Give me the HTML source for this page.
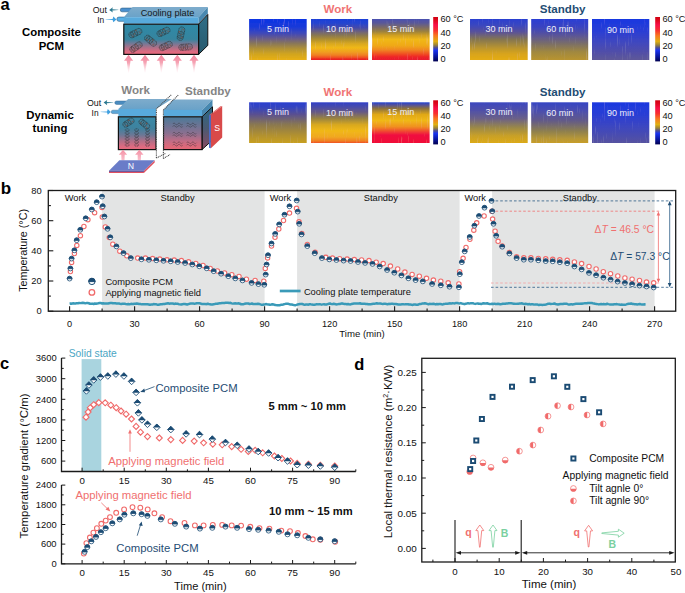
<!DOCTYPE html>
<html><head><meta charset="utf-8"><style>html,body{margin:0;padding:0;background:#fff;}svg{display:block;}</style></head>
<body><svg width="685" height="593" viewBox="0 0 685 593" font-family="Liberation Sans, sans-serif"><defs><linearGradient id="h1_0" x1="0" y1="0" x2="0" y2="1"><stop offset="0" stop-color="#0a34e4"/><stop offset="0.2" stop-color="#1a3ad8"/><stop offset="0.35" stop-color="#4048b8"/><stop offset="0.48" stop-color="#6a5c88"/><stop offset="0.6" stop-color="#8a7858"/><stop offset="0.72" stop-color="#ae9038"/><stop offset="0.85" stop-color="#d0a420"/><stop offset="1" stop-color="#e8b014"/></linearGradient><linearGradient id="h1_1" x1="0" y1="0" x2="0" y2="1"><stop offset="0" stop-color="#1c40d8"/><stop offset="0.1" stop-color="#2444d0"/><stop offset="0.2" stop-color="#4048b0"/><stop offset="0.3" stop-color="#6a6080"/><stop offset="0.4" stop-color="#8a7850"/><stop offset="0.5" stop-color="#b09030"/><stop offset="0.6" stop-color="#d8a820"/><stop offset="0.7" stop-color="#f0b818"/><stop offset="0.8" stop-color="#f0a020"/><stop offset="0.88" stop-color="#f08020"/><stop offset="0.94" stop-color="#f05020"/><stop offset="0.98" stop-color="#e82020"/><stop offset="1" stop-color="#e82020"/></linearGradient><linearGradient id="h1_2" x1="0" y1="0" x2="0" y2="1"><stop offset="0" stop-color="#4a50b0"/><stop offset="0.1" stop-color="#5a5898"/><stop offset="0.2" stop-color="#7a6a68"/><stop offset="0.3" stop-color="#9a8040"/><stop offset="0.4" stop-color="#d0a020"/><stop offset="0.5" stop-color="#f0b818"/><stop offset="0.65" stop-color="#f0a818"/><stop offset="0.75" stop-color="#f08820"/><stop offset="0.85" stop-color="#f05020"/><stop offset="0.92" stop-color="#ee2828"/><stop offset="1" stop-color="#e81830"/></linearGradient><linearGradient id="h1_3" x1="0" y1="0" x2="0" y2="1"><stop offset="0" stop-color="#2a40d0"/><stop offset="0.15" stop-color="#3a46c0"/><stop offset="0.32" stop-color="#5a5298"/><stop offset="0.5" stop-color="#857650"/><stop offset="0.7" stop-color="#b89430"/><stop offset="0.85" stop-color="#d8a41c"/><stop offset="1" stop-color="#e4ac14"/></linearGradient><linearGradient id="h1_4" x1="0" y1="0" x2="0" y2="1"><stop offset="0" stop-color="#2a3ed4"/><stop offset="0.2" stop-color="#3a44c0"/><stop offset="0.4" stop-color="#5a5498"/><stop offset="0.6" stop-color="#7a6e68"/><stop offset="0.8" stop-color="#a08840"/><stop offset="1" stop-color="#b89430"/></linearGradient><linearGradient id="h1_5" x1="0" y1="0" x2="0" y2="1"><stop offset="0" stop-color="#1838e0"/><stop offset="0.3" stop-color="#2a3ed4"/><stop offset="0.6" stop-color="#4248bc"/><stop offset="0.85" stop-color="#5450a4"/><stop offset="1" stop-color="#5e5898"/></linearGradient><linearGradient id="h2_0" x1="0" y1="0" x2="0" y2="1"><stop offset="0" stop-color="#2a40d0"/><stop offset="0.12" stop-color="#3444c0"/><stop offset="0.3" stop-color="#5a5090"/><stop offset="0.55" stop-color="#8a7850"/><stop offset="0.8" stop-color="#b09030"/><stop offset="1" stop-color="#c8a020"/></linearGradient><linearGradient id="h2_1" x1="0" y1="0" x2="0" y2="1"><stop offset="0" stop-color="#3040c8"/><stop offset="0.12" stop-color="#4a4ca8"/><stop offset="0.25" stop-color="#6a5c80"/><stop offset="0.4" stop-color="#9a8440"/><stop offset="0.55" stop-color="#d8a820"/><stop offset="0.7" stop-color="#f0b818"/><stop offset="0.85" stop-color="#f0a820"/><stop offset="0.95" stop-color="#f08020"/><stop offset="1" stop-color="#f05020"/></linearGradient><linearGradient id="h2_2" x1="0" y1="0" x2="0" y2="1"><stop offset="0" stop-color="#2040d0"/><stop offset="0.06" stop-color="#5050a0"/><stop offset="0.15" stop-color="#8a7040"/><stop offset="0.3" stop-color="#e0a818"/><stop offset="0.45" stop-color="#f0b818"/><stop offset="0.6" stop-color="#f09020"/><stop offset="0.7" stop-color="#f05030"/><stop offset="0.8" stop-color="#f01040"/><stop offset="1" stop-color="#f00838"/></linearGradient><linearGradient id="h2_3" x1="0" y1="0" x2="0" y2="1"><stop offset="0" stop-color="#3c48c0"/><stop offset="0.2" stop-color="#5050a8"/><stop offset="0.4" stop-color="#6a6088"/><stop offset="0.62" stop-color="#9a8848"/><stop offset="0.82" stop-color="#c8a028"/><stop offset="1" stop-color="#dcaa18"/></linearGradient><linearGradient id="h2_4" x1="0" y1="0" x2="0" y2="1"><stop offset="0" stop-color="#3444c4"/><stop offset="0.2" stop-color="#4a4eb0"/><stop offset="0.45" stop-color="#625a88"/><stop offset="0.7" stop-color="#8c7e50"/><stop offset="0.88" stop-color="#b49638"/><stop offset="1" stop-color="#c89e28"/></linearGradient><linearGradient id="h2_5" x1="0" y1="0" x2="0" y2="1"><stop offset="0" stop-color="#1a38e0"/><stop offset="0.3" stop-color="#2a3ed4"/><stop offset="0.6" stop-color="#3c46c0"/><stop offset="0.85" stop-color="#4c4eac"/><stop offset="1" stop-color="#5652a0"/></linearGradient><linearGradient id="cb" x1="0" y1="0" x2="0" y2="1"><stop offset="0" stop-color="#d00010"/><stop offset="0.08" stop-color="#e00820"/><stop offset="0.18" stop-color="#f81048"/><stop offset="0.3" stop-color="#f83030"/><stop offset="0.42" stop-color="#f87820"/><stop offset="0.55" stop-color="#e0b010"/><stop offset="0.63" stop-color="#9a8438"/><stop offset="0.69" stop-color="#505090"/><stop offset="0.75" stop-color="#1a34f0"/><stop offset="0.86" stop-color="#0c1cb0"/><stop offset="1" stop-color="#000050"/></linearGradient><linearGradient id="box1" x1="0" y1="0" x2="0" y2="1"><stop offset="0" stop-color="#2e8aa8"/><stop offset="0.5" stop-color="#36849e"/><stop offset="0.62" stop-color="#6a7a98"/><stop offset="0.78" stop-color="#b07088"/><stop offset="0.92" stop-color="#e06a80"/><stop offset="1" stop-color="#e46a7c"/></linearGradient><linearGradient id="box1r" x1="0" y1="0" x2="0" y2="1"><stop offset="0" stop-color="#2e6e88"/><stop offset="0.6" stop-color="#2a6278"/><stop offset="1" stop-color="#2a5a6e"/></linearGradient><linearGradient id="box2" x1="0" y1="0" x2="0" y2="1"><stop offset="0" stop-color="#3a8aa8"/><stop offset="0.35" stop-color="#3e829e"/><stop offset="0.55" stop-color="#6a7896"/><stop offset="0.75" stop-color="#b46e86"/><stop offset="0.92" stop-color="#e06a80"/><stop offset="1" stop-color="#e46a7c"/></linearGradient><linearGradient id="box2s" x1="0" y1="0" x2="0" y2="1"><stop offset="0" stop-color="#4a7a98"/><stop offset="0.25" stop-color="#6a7494"/><stop offset="0.5" stop-color="#8a7090"/><stop offset="0.75" stop-color="#c46c84"/><stop offset="0.92" stop-color="#e06878"/><stop offset="1" stop-color="#e46878"/></linearGradient><linearGradient id="box2r" x1="0" y1="0" x2="0" y2="1"><stop offset="0" stop-color="#2a6a84"/><stop offset="0.5" stop-color="#4a5a72"/><stop offset="1" stop-color="#8a4a60"/></linearGradient><linearGradient id="ptop" x1="0" y1="0" x2="0" y2="1"><stop offset="0" stop-color="#7eaccc"/><stop offset="1" stop-color="#6aa2c8"/></linearGradient><linearGradient id="parr" x1="0" y1="0" x2="0" y2="1"><stop offset="0" stop-color="#f2849c"/><stop offset="0.45" stop-color="#f6a4b4"/><stop offset="1" stop-color="#fde4ea" stop-opacity="0.3"/></linearGradient><linearGradient id="parr2" x1="0" y1="0" x2="0" y2="1"><stop offset="0" stop-color="#f490a4"/><stop offset="1" stop-color="#fac0cc"/></linearGradient><filter id="streak" x="0" y="0" width="1" height="1"><feTurbulence type="fractalNoise" baseFrequency="0.9 0.06" numOctaves="2" seed="3" result="n"/><feColorMatrix in="n" type="matrix" values="0 0 0 0 1  0 0 0 0 1  0 0 0 0 1  0 0 0 0.3 -0.19" result="w"/><feComposite in="w" in2="SourceGraphic" operator="in" result="wc"/><feMerge><feMergeNode in="SourceGraphic"/><feMergeNode in="wc"/></feMerge></filter></defs><rect width="685" height="593" fill="#fff"/><text x="0.5" y="9.6" font-family="Liberation Sans, sans-serif" font-weight="bold" font-size="16.5">a</text><text x="51.4" y="35.5" font-family="Liberation Sans, sans-serif" font-weight="bold" font-size="11.4" text-anchor="middle">Composite</text><text x="51.4" y="49.6" font-family="Liberation Sans, sans-serif" font-weight="bold" font-size="11.4" text-anchor="middle">PCM</text><text x="50" y="118.5" font-family="Liberation Sans, sans-serif" font-weight="bold" font-size="11.4" text-anchor="middle">Dynamic</text><text x="50" y="132.2" font-family="Liberation Sans, sans-serif" font-weight="bold" font-size="11.4" text-anchor="middle">tuning</text><rect x="249.1" y="19" width="57.6" height="41.0" fill="url(#h1_0)" filter="url(#streak)"/><text x="277.9" y="32.1" font-family="Liberation Sans, sans-serif" font-size="9" fill="#f0f0fa" text-anchor="middle">5 min</text><rect x="311" y="19" width="57.2" height="41.0" fill="url(#h1_1)" filter="url(#streak)"/><text x="339.6" y="32.4" font-family="Liberation Sans, sans-serif" font-size="9" fill="#f0f0fa" text-anchor="middle">10 min</text><rect x="372" y="19" width="57.6" height="41.0" fill="url(#h1_2)" filter="url(#streak)"/><text x="400.8" y="32.1" font-family="Liberation Sans, sans-serif" font-size="9" fill="#f0f0fa" text-anchor="middle">15 min</text><rect x="470" y="19" width="57.7" height="41.0" fill="url(#h1_3)" filter="url(#streak)"/><text x="498.9" y="31.9" font-family="Liberation Sans, sans-serif" font-size="9" fill="#f0f0fa" text-anchor="middle">30 min</text><rect x="531.2" y="19" width="57.0" height="41.0" fill="url(#h1_4)" filter="url(#streak)"/><text x="559.7" y="32.2" font-family="Liberation Sans, sans-serif" font-size="9" fill="#f0f0fa" text-anchor="middle">60 min</text><rect x="592" y="19" width="57.3" height="41.0" fill="url(#h1_5)" filter="url(#streak)"/><text x="620.6" y="32.9" font-family="Liberation Sans, sans-serif" font-size="9" fill="#f0f0fa" text-anchor="middle">90 min</text><rect x="433.2" y="17.0" width="4.8" height="44.4" fill="url(#cb)"/><text x="440.4" y="22.4" font-family="Liberation Sans, sans-serif" font-size="9.2" fill="#111">60 °C</text><text x="440.4" y="35.5" font-family="Liberation Sans, sans-serif" font-size="9.2" fill="#111">40</text><text x="440.4" y="48.6" font-family="Liberation Sans, sans-serif" font-size="9.2" fill="#111">20</text><text x="440.4" y="61.7" font-family="Liberation Sans, sans-serif" font-size="9.2" fill="#111">0</text><rect x="655.2" y="17.0" width="4.8" height="44.4" fill="url(#cb)"/><text x="662.4" y="22.4" font-family="Liberation Sans, sans-serif" font-size="9.2" fill="#111">60 °C</text><text x="662.4" y="35.5" font-family="Liberation Sans, sans-serif" font-size="9.2" fill="#111">40</text><text x="662.4" y="48.6" font-family="Liberation Sans, sans-serif" font-size="9.2" fill="#111">20</text><text x="662.4" y="61.7" font-family="Liberation Sans, sans-serif" font-size="9.2" fill="#111">0</text><text x="337.9" y="13.1" font-family="Liberation Sans, sans-serif" font-weight="bold" font-size="11.6" fill="#f07474" text-anchor="middle">Work</text><text x="562.6" y="13.1" font-family="Liberation Sans, sans-serif" font-weight="bold" font-size="11.6" fill="#1f4d74" text-anchor="middle">Standby</text><rect x="249.1" y="102.3" width="57.6" height="40.7" fill="url(#h2_0)" filter="url(#streak)"/><text x="277.9" y="115.4" font-family="Liberation Sans, sans-serif" font-size="9" fill="#f0f0fa" text-anchor="middle">5 min</text><rect x="311" y="102.3" width="57.2" height="40.7" fill="url(#h2_1)" filter="url(#streak)"/><text x="339.6" y="115.7" font-family="Liberation Sans, sans-serif" font-size="9" fill="#f0f0fa" text-anchor="middle">10 min</text><rect x="372" y="102.3" width="57.6" height="40.7" fill="url(#h2_2)" filter="url(#streak)"/><text x="400.8" y="115.4" font-family="Liberation Sans, sans-serif" font-size="9" fill="#f0f0fa" text-anchor="middle">15 min</text><rect x="470" y="102.3" width="57.7" height="40.7" fill="url(#h2_3)" filter="url(#streak)"/><text x="498.9" y="115.2" font-family="Liberation Sans, sans-serif" font-size="9" fill="#f0f0fa" text-anchor="middle">30 min</text><rect x="531.2" y="102.3" width="57.0" height="40.7" fill="url(#h2_4)" filter="url(#streak)"/><text x="559.7" y="115.5" font-family="Liberation Sans, sans-serif" font-size="9" fill="#f0f0fa" text-anchor="middle">60 min</text><rect x="592" y="102.3" width="57.3" height="40.7" fill="url(#h2_5)" filter="url(#streak)"/><text x="620.6" y="116.2" font-family="Liberation Sans, sans-serif" font-size="9" fill="#f0f0fa" text-anchor="middle">90 min</text><rect x="433.2" y="100.3" width="4.8" height="44.1" fill="url(#cb)"/><text x="440.4" y="105.7" font-family="Liberation Sans, sans-serif" font-size="9.2" fill="#111">60 °C</text><text x="440.4" y="118.8" font-family="Liberation Sans, sans-serif" font-size="9.2" fill="#111">40</text><text x="440.4" y="131.9" font-family="Liberation Sans, sans-serif" font-size="9.2" fill="#111">20</text><text x="440.4" y="145.0" font-family="Liberation Sans, sans-serif" font-size="9.2" fill="#111">0</text><rect x="655.2" y="100.3" width="4.8" height="44.1" fill="url(#cb)"/><text x="662.4" y="105.7" font-family="Liberation Sans, sans-serif" font-size="9.2" fill="#111">60 °C</text><text x="662.4" y="118.8" font-family="Liberation Sans, sans-serif" font-size="9.2" fill="#111">40</text><text x="662.4" y="131.9" font-family="Liberation Sans, sans-serif" font-size="9.2" fill="#111">20</text><text x="662.4" y="145.0" font-family="Liberation Sans, sans-serif" font-size="9.2" fill="#111">0</text><text x="337.9" y="95.9" font-family="Liberation Sans, sans-serif" font-weight="bold" font-size="11.6" fill="#f07474" text-anchor="middle">Work</text><text x="562.6" y="95.9" font-family="Liberation Sans, sans-serif" font-weight="bold" font-size="11.6" fill="#1f4d74" text-anchor="middle">Standby</text><text x="106.9" y="12.6" font-family="Liberation Sans, sans-serif" font-size="8.8" fill="#111" text-anchor="end">Out</text><text x="104.3" y="23.4" font-family="Liberation Sans, sans-serif" font-size="8.4" fill="#111" text-anchor="end">In</text><rect x="120.3" y="8.1" width="14" height="3.7" rx="1.8" fill="#4a90d0" stroke="#3a6a90" stroke-width="0.7"/><rect x="116.9" y="17.1" width="9" height="4.2" rx="2" fill="#58b0e8" stroke="#3a6a90" stroke-width="0.7"/><path d="M109.2,9.9 L112.8,7.2 L112.3,9.2 L118.4,9.7 L118.4,10.1 L112.3,10.6 L112.8,12.6 Z" fill="#2a7890"/><path d="M116.4,19.4 L113.4,16.6 L112.6,18.9 L105.6,19.3 L105.6,19.5 L112.6,19.9 L113.4,22.2 Z" fill="#40a0e0"/><polygon points="123.8,17.2 132.6,7 207.8,7 198.6,17.2" fill="url(#ptop)"/><rect x="123.8" y="17.2" width="74.8" height="6.6" fill="#58aadc"/><polygon points="198.6,17.2 207.8,7 207.8,13.6 198.6,23.8" fill="#4888b0"/><text x="167.5" y="16.2" font-family="Liberation Sans, sans-serif" font-size="9.2" fill="#111a22" text-anchor="middle">Cooling plate</text><polygon points="198.6,24.2 207.8,14.4 207.8,45.4 198.6,54.4" fill="url(#box1r)" stroke="#111" stroke-width="1"/><rect x="123.8" y="24.2" width="74.8" height="30.2" fill="url(#box1)" stroke="#111" stroke-width="1.2"/><g transform="translate(135.4,33.1) rotate(-25)" opacity="0.8"><rect x="-6.8" y="-3" width="13.6" height="6" rx="2.8" fill="#5a6a78" fill-opacity="0.3" stroke="#262626" stroke-width="0.7" stroke-dasharray="1.2 0.4"/><ellipse cx="-3.4" cy="0" rx="1.3" ry="2.6" fill="none" stroke="#262626" stroke-width="0.55"/><ellipse cx="0.8" cy="0" rx="1.3" ry="2.6" fill="none" stroke="#262626" stroke-width="0.55"/><line x1="-6" y1="0" x2="6" y2="0" stroke="#444" stroke-width="0.4"/><circle cx="1.5" cy="-2" r="0.75" fill="#8a5040"/><circle cx="-3.6" cy="1.6" r="0.7" fill="#8a5040"/><circle cx="4.4" cy="1.4" r="0.7" fill="#8a5040"/><circle cx="-1" cy="0.4" r="0.6" fill="#8a5040"/></g><g transform="translate(150.6,40.7) rotate(40)" opacity="0.8"><rect x="-6.8" y="-3" width="13.6" height="6" rx="2.8" fill="#5a6a78" fill-opacity="0.3" stroke="#262626" stroke-width="0.7" stroke-dasharray="1.2 0.4"/><ellipse cx="-3.4" cy="0" rx="1.3" ry="2.6" fill="none" stroke="#262626" stroke-width="0.55"/><ellipse cx="0.8" cy="0" rx="1.3" ry="2.6" fill="none" stroke="#262626" stroke-width="0.55"/><line x1="-6" y1="0" x2="6" y2="0" stroke="#444" stroke-width="0.4"/><circle cx="1.5" cy="-2" r="0.75" fill="#8a5040"/><circle cx="-3.6" cy="1.6" r="0.7" fill="#8a5040"/><circle cx="4.4" cy="1.4" r="0.7" fill="#8a5040"/><circle cx="-1" cy="0.4" r="0.6" fill="#8a5040"/></g><g transform="translate(163.5,31.9) rotate(-25)" opacity="0.8"><rect x="-6.8" y="-3" width="13.6" height="6" rx="2.8" fill="#5a6a78" fill-opacity="0.3" stroke="#262626" stroke-width="0.7" stroke-dasharray="1.2 0.4"/><ellipse cx="-3.4" cy="0" rx="1.3" ry="2.6" fill="none" stroke="#262626" stroke-width="0.55"/><ellipse cx="0.8" cy="0" rx="1.3" ry="2.6" fill="none" stroke="#262626" stroke-width="0.55"/><line x1="-6" y1="0" x2="6" y2="0" stroke="#444" stroke-width="0.4"/><circle cx="1.5" cy="-2" r="0.75" fill="#8a5040"/><circle cx="-3.6" cy="1.6" r="0.7" fill="#8a5040"/><circle cx="4.4" cy="1.4" r="0.7" fill="#8a5040"/><circle cx="-1" cy="0.4" r="0.6" fill="#8a5040"/></g><g transform="translate(181,33.7) rotate(-78)" opacity="0.8"><rect x="-6.8" y="-3" width="13.6" height="6" rx="2.8" fill="#5a6a78" fill-opacity="0.3" stroke="#262626" stroke-width="0.7" stroke-dasharray="1.2 0.4"/><ellipse cx="-3.4" cy="0" rx="1.3" ry="2.6" fill="none" stroke="#262626" stroke-width="0.55"/><ellipse cx="0.8" cy="0" rx="1.3" ry="2.6" fill="none" stroke="#262626" stroke-width="0.55"/><line x1="-6" y1="0" x2="6" y2="0" stroke="#444" stroke-width="0.4"/><circle cx="1.5" cy="-2" r="0.75" fill="#8a5040"/><circle cx="-3.6" cy="1.6" r="0.7" fill="#8a5040"/><circle cx="4.4" cy="1.4" r="0.7" fill="#8a5040"/><circle cx="-1" cy="0.4" r="0.6" fill="#8a5040"/></g><g transform="translate(136,47.1) rotate(-35)" opacity="0.8"><rect x="-6.8" y="-3" width="13.6" height="6" rx="2.8" fill="#5a6a78" fill-opacity="0.3" stroke="#262626" stroke-width="0.7" stroke-dasharray="1.2 0.4"/><ellipse cx="-3.4" cy="0" rx="1.3" ry="2.6" fill="none" stroke="#262626" stroke-width="0.55"/><ellipse cx="0.8" cy="0" rx="1.3" ry="2.6" fill="none" stroke="#262626" stroke-width="0.55"/><line x1="-6" y1="0" x2="6" y2="0" stroke="#444" stroke-width="0.4"/><circle cx="1.5" cy="-2" r="0.75" fill="#8a5040"/><circle cx="-3.6" cy="1.6" r="0.7" fill="#8a5040"/><circle cx="4.4" cy="1.4" r="0.7" fill="#8a5040"/><circle cx="-1" cy="0.4" r="0.6" fill="#8a5040"/></g><g transform="translate(165.8,46) rotate(-25)" opacity="0.8"><rect x="-6.8" y="-3" width="13.6" height="6" rx="2.8" fill="#5a6a78" fill-opacity="0.3" stroke="#262626" stroke-width="0.7" stroke-dasharray="1.2 0.4"/><ellipse cx="-3.4" cy="0" rx="1.3" ry="2.6" fill="none" stroke="#262626" stroke-width="0.55"/><ellipse cx="0.8" cy="0" rx="1.3" ry="2.6" fill="none" stroke="#262626" stroke-width="0.55"/><line x1="-6" y1="0" x2="6" y2="0" stroke="#444" stroke-width="0.4"/><circle cx="1.5" cy="-2" r="0.75" fill="#8a5040"/><circle cx="-3.6" cy="1.6" r="0.7" fill="#8a5040"/><circle cx="4.4" cy="1.4" r="0.7" fill="#8a5040"/><circle cx="-1" cy="0.4" r="0.6" fill="#8a5040"/></g><g transform="translate(185.6,47.1) rotate(-4)" opacity="0.8"><rect x="-6.8" y="-3" width="13.6" height="6" rx="2.8" fill="#5a6a78" fill-opacity="0.3" stroke="#262626" stroke-width="0.7" stroke-dasharray="1.2 0.4"/><ellipse cx="-3.4" cy="0" rx="1.3" ry="2.6" fill="none" stroke="#262626" stroke-width="0.55"/><ellipse cx="0.8" cy="0" rx="1.3" ry="2.6" fill="none" stroke="#262626" stroke-width="0.55"/><line x1="-6" y1="0" x2="6" y2="0" stroke="#444" stroke-width="0.4"/><circle cx="1.5" cy="-2" r="0.75" fill="#8a5040"/><circle cx="-3.6" cy="1.6" r="0.7" fill="#8a5040"/><circle cx="4.4" cy="1.4" r="0.7" fill="#8a5040"/><circle cx="-1" cy="0.4" r="0.6" fill="#8a5040"/></g><path d="M128.6,54.8 L133.2,60.8 L130.5,60.8 L129.0,72.5 L128.2,72.5 L126.69999999999999,60.8 L124.0,60.8 Z" fill="url(#parr)"/><path d="M145,54.8 L149.6,60.8 L146.9,60.8 L145.4,72.5 L144.6,72.5 L143.1,60.8 L140.4,60.8 Z" fill="url(#parr)"/><path d="M161.3,54.8 L165.9,60.8 L163.20000000000002,60.8 L161.70000000000002,72.5 L160.9,72.5 L159.4,60.8 L156.70000000000002,60.8 Z" fill="url(#parr)"/><path d="M177.3,54.8 L181.9,60.8 L179.20000000000002,60.8 L177.70000000000002,72.5 L176.9,72.5 L175.4,60.8 L172.70000000000002,60.8 Z" fill="url(#parr)"/><path d="M194,54.8 L198.6,60.8 L195.9,60.8 L194.4,72.5 L193.6,72.5 L192.1,60.8 L189.4,60.8 Z" fill="url(#parr)"/><text x="135.7" y="93.8" font-family="Liberation Sans, sans-serif" font-weight="bold" font-size="11.6" fill="#858585" text-anchor="middle">Work</text><text x="207.9" y="94.8" font-family="Liberation Sans, sans-serif" font-weight="bold" font-size="11.6" fill="#858585" text-anchor="middle">Standby</text><text x="101.1" y="105.8" font-family="Liberation Sans, sans-serif" font-size="8.8" fill="#111" text-anchor="end">Out</text><text x="98.6" y="115.6" font-family="Liberation Sans, sans-serif" font-size="8.4" fill="#111" text-anchor="end">In</text><rect x="114.8" y="101" width="14" height="3.4" rx="1.7" fill="#4a8cc0" stroke="#3a6e98" stroke-width="0.5"/><rect x="111.2" y="110.2" width="9" height="3.4" rx="1.7" fill="#5aa6d8" stroke="#3a6e98" stroke-width="0.5"/><path d="M103.6,102.6 L107.2,99.9 L106.7,101.9 L113.3,102.4 L113.3,102.8 L106.7,103.3 L107.2,105.3 Z" fill="#2a7890"/><path d="M110.8,111.9 L107.8,109.1 L107,111.4 L100.6,111.8 L100.6,112 L107,112.4 L107.8,114.7 Z" fill="#40a0e0"/><polygon points="118.4,108.9 128.1,99 172,99 156,108.9" fill="url(#ptop)"/><rect x="118.4" y="108.9" width="37.6" height="7.4" fill="#58aadc"/><rect x="118.4" y="116.8" width="37.6" height="32.8" fill="url(#box2)" stroke="#111" stroke-width="1.2"/><polygon points="163.5,109.9 173,99.4 212.5,99.4 202,109.9" fill="url(#ptop)"/><rect x="163.5" y="109.9" width="38.5" height="6.6" fill="#58aadc"/><polygon points="202,109.9 212.5,99.4 212.5,106.6 202,116.5" fill="#4888b0"/><polygon points="202,116.8 212.5,106.8 212.5,140 202,149.6" fill="url(#box2r)" stroke="#111" stroke-width="1"/><rect x="163.5" y="116.8" width="38.5" height="32.8" fill="url(#box2s)" stroke="#111" stroke-width="1.2"/><polygon points="156.6,116 156.6,160 163,160 163,116" fill="#fff"/><polyline points="156.4,158 156.4,108.8 171.8,94.4" fill="none" stroke="#4a4a4a" stroke-width="1.1" stroke-dasharray="1 0.8"/><polyline points="163.4,158.4 163.4,109.8 178.6,94.8" fill="none" stroke="#4a4a4a" stroke-width="1.1" stroke-dasharray="1 0.8"/><polyline points="156.4,158 166,153.2" fill="none" stroke="#4a4a4a" stroke-width="1.1" stroke-dasharray="1 0.8"/><polyline points="163.4,158.4 170,154.6" fill="none" stroke="#4a4a4a" stroke-width="1.1" stroke-dasharray="1 0.8"/><g transform="translate(128.5,122.6) rotate(-32)" opacity="0.8"><rect x="-6" y="-2.8" width="12" height="5.6" rx="2.6" fill="#5a6a78" fill-opacity="0.3" stroke="#262626" stroke-width="0.7" stroke-dasharray="1.2 0.4"/><ellipse cx="-2.6" cy="0" rx="1.2" ry="2.4" fill="none" stroke="#262626" stroke-width="0.55"/><ellipse cx="1.2" cy="0" rx="1.2" ry="2.4" fill="none" stroke="#262626" stroke-width="0.55"/><circle cx="1.5" cy="-1.8" r="0.7" fill="#8a5040"/><circle cx="-3.2" cy="1.4" r="0.65" fill="#8a5040"/><circle cx="4" cy="1.2" r="0.65" fill="#8a5040"/></g><g transform="translate(144.3,124) rotate(40)" opacity="0.8"><rect x="-6" y="-2.8" width="12" height="5.6" rx="2.6" fill="#5a6a78" fill-opacity="0.3" stroke="#262626" stroke-width="0.7" stroke-dasharray="1.2 0.4"/><ellipse cx="-2.6" cy="0" rx="1.2" ry="2.4" fill="none" stroke="#262626" stroke-width="0.55"/><ellipse cx="1.2" cy="0" rx="1.2" ry="2.4" fill="none" stroke="#262626" stroke-width="0.55"/><circle cx="1.5" cy="-1.8" r="0.7" fill="#8a5040"/><circle cx="-3.2" cy="1.4" r="0.65" fill="#8a5040"/><circle cx="4" cy="1.2" r="0.65" fill="#8a5040"/></g><g transform="translate(127.2,130.0)" opacity="0.9"><ellipse cx="0" cy="0" rx="2.1" ry="1.3" fill="none" stroke="#2a2a2a" stroke-width="0.6" stroke-dasharray="0.9 0.5"/><circle cx="-0.6" cy="0" r="0.45" fill="#444"/><circle cx="0.9" cy="0.3" r="0.4" fill="#444"/></g><g transform="translate(127.2,133.0)" opacity="0.9"><ellipse cx="0" cy="0" rx="2.1" ry="1.3" fill="none" stroke="#2a2a2a" stroke-width="0.6" stroke-dasharray="0.9 0.5"/><circle cx="-0.6" cy="0" r="0.45" fill="#444"/><circle cx="0.9" cy="0.3" r="0.4" fill="#444"/></g><g transform="translate(127.2,136.0)" opacity="0.9"><ellipse cx="0" cy="0" rx="2.1" ry="1.3" fill="none" stroke="#2a2a2a" stroke-width="0.6" stroke-dasharray="0.9 0.5"/><circle cx="-0.6" cy="0" r="0.45" fill="#444"/><circle cx="0.9" cy="0.3" r="0.4" fill="#444"/></g><g transform="translate(127.2,139.0)" opacity="0.9"><ellipse cx="0" cy="0" rx="2.1" ry="1.3" fill="none" stroke="#2a2a2a" stroke-width="0.6" stroke-dasharray="0.9 0.5"/><circle cx="-0.6" cy="0" r="0.45" fill="#444"/><circle cx="0.9" cy="0.3" r="0.4" fill="#444"/></g><g transform="translate(127.2,142.0)" opacity="0.9"><ellipse cx="0" cy="0" rx="2.1" ry="1.3" fill="none" stroke="#2a2a2a" stroke-width="0.6" stroke-dasharray="0.9 0.5"/><circle cx="-0.6" cy="0" r="0.45" fill="#444"/><circle cx="0.9" cy="0.3" r="0.4" fill="#444"/></g><g transform="translate(127.2,145.0)" opacity="0.9"><ellipse cx="0" cy="0" rx="2.1" ry="1.3" fill="none" stroke="#2a2a2a" stroke-width="0.6" stroke-dasharray="0.9 0.5"/><circle cx="-0.6" cy="0" r="0.45" fill="#444"/><circle cx="0.9" cy="0.3" r="0.4" fill="#444"/></g><g transform="translate(136.6,130.0)" opacity="0.9"><ellipse cx="0" cy="0" rx="2.1" ry="1.3" fill="none" stroke="#2a2a2a" stroke-width="0.6" stroke-dasharray="0.9 0.5"/><circle cx="-0.6" cy="0" r="0.45" fill="#444"/><circle cx="0.9" cy="0.3" r="0.4" fill="#444"/></g><g transform="translate(136.6,133.0)" opacity="0.9"><ellipse cx="0" cy="0" rx="2.1" ry="1.3" fill="none" stroke="#2a2a2a" stroke-width="0.6" stroke-dasharray="0.9 0.5"/><circle cx="-0.6" cy="0" r="0.45" fill="#444"/><circle cx="0.9" cy="0.3" r="0.4" fill="#444"/></g><g transform="translate(136.6,136.0)" opacity="0.9"><ellipse cx="0" cy="0" rx="2.1" ry="1.3" fill="none" stroke="#2a2a2a" stroke-width="0.6" stroke-dasharray="0.9 0.5"/><circle cx="-0.6" cy="0" r="0.45" fill="#444"/><circle cx="0.9" cy="0.3" r="0.4" fill="#444"/></g><g transform="translate(136.6,139.0)" opacity="0.9"><ellipse cx="0" cy="0" rx="2.1" ry="1.3" fill="none" stroke="#2a2a2a" stroke-width="0.6" stroke-dasharray="0.9 0.5"/><circle cx="-0.6" cy="0" r="0.45" fill="#444"/><circle cx="0.9" cy="0.3" r="0.4" fill="#444"/></g><g transform="translate(136.6,142.0)" opacity="0.9"><ellipse cx="0" cy="0" rx="2.1" ry="1.3" fill="none" stroke="#2a2a2a" stroke-width="0.6" stroke-dasharray="0.9 0.5"/><circle cx="-0.6" cy="0" r="0.45" fill="#444"/><circle cx="0.9" cy="0.3" r="0.4" fill="#444"/></g><g transform="translate(136.6,145.0)" opacity="0.9"><ellipse cx="0" cy="0" rx="2.1" ry="1.3" fill="none" stroke="#2a2a2a" stroke-width="0.6" stroke-dasharray="0.9 0.5"/><circle cx="-0.6" cy="0" r="0.45" fill="#444"/><circle cx="0.9" cy="0.3" r="0.4" fill="#444"/></g><g transform="translate(147.5,130.0)" opacity="0.9"><ellipse cx="0" cy="0" rx="2.1" ry="1.3" fill="none" stroke="#2a2a2a" stroke-width="0.6" stroke-dasharray="0.9 0.5"/><circle cx="-0.6" cy="0" r="0.45" fill="#444"/><circle cx="0.9" cy="0.3" r="0.4" fill="#444"/></g><g transform="translate(147.5,133.0)" opacity="0.9"><ellipse cx="0" cy="0" rx="2.1" ry="1.3" fill="none" stroke="#2a2a2a" stroke-width="0.6" stroke-dasharray="0.9 0.5"/><circle cx="-0.6" cy="0" r="0.45" fill="#444"/><circle cx="0.9" cy="0.3" r="0.4" fill="#444"/></g><g transform="translate(147.5,136.0)" opacity="0.9"><ellipse cx="0" cy="0" rx="2.1" ry="1.3" fill="none" stroke="#2a2a2a" stroke-width="0.6" stroke-dasharray="0.9 0.5"/><circle cx="-0.6" cy="0" r="0.45" fill="#444"/><circle cx="0.9" cy="0.3" r="0.4" fill="#444"/></g><g transform="translate(147.5,139.0)" opacity="0.9"><ellipse cx="0" cy="0" rx="2.1" ry="1.3" fill="none" stroke="#2a2a2a" stroke-width="0.6" stroke-dasharray="0.9 0.5"/><circle cx="-0.6" cy="0" r="0.45" fill="#444"/><circle cx="0.9" cy="0.3" r="0.4" fill="#444"/></g><g transform="translate(147.5,142.0)" opacity="0.9"><ellipse cx="0" cy="0" rx="2.1" ry="1.3" fill="none" stroke="#2a2a2a" stroke-width="0.6" stroke-dasharray="0.9 0.5"/><circle cx="-0.6" cy="0" r="0.45" fill="#444"/><circle cx="0.9" cy="0.3" r="0.4" fill="#444"/></g><g transform="translate(147.5,145.0)" opacity="0.9"><ellipse cx="0" cy="0" rx="2.1" ry="1.3" fill="none" stroke="#2a2a2a" stroke-width="0.6" stroke-dasharray="0.9 0.5"/><circle cx="-0.6" cy="0" r="0.45" fill="#444"/><circle cx="0.9" cy="0.3" r="0.4" fill="#444"/></g><g transform="translate(177.8,125.2)" opacity="0.8"><path d="M-5,-1.2 q1.2,-1.6 2.5,0 t2.5,0 t2.5,0 t2.5,0 M-5,1.2 q1.2,-1.6 2.5,0 t2.5,0 t2.5,0 t2.5,0" fill="none" stroke="#2a2a2a" stroke-width="0.7" stroke-dasharray="0.9 0.4"/></g><g transform="translate(177.8,134.4)" opacity="0.8"><path d="M-5,-1.2 q1.2,-1.6 2.5,0 t2.5,0 t2.5,0 t2.5,0 M-5,1.2 q1.2,-1.6 2.5,0 t2.5,0 t2.5,0 t2.5,0" fill="none" stroke="#2a2a2a" stroke-width="0.7" stroke-dasharray="0.9 0.4"/></g><g transform="translate(177.8,144)" opacity="0.8"><path d="M-5,-1.2 q1.2,-1.6 2.5,0 t2.5,0 t2.5,0 t2.5,0 M-5,1.2 q1.2,-1.6 2.5,0 t2.5,0 t2.5,0 t2.5,0" fill="none" stroke="#2a2a2a" stroke-width="0.7" stroke-dasharray="0.9 0.4"/></g><g transform="translate(191.6,125.2)" opacity="0.8"><path d="M-5,-1.2 q1.2,-1.6 2.5,0 t2.5,0 t2.5,0 t2.5,0 M-5,1.2 q1.2,-1.6 2.5,0 t2.5,0 t2.5,0 t2.5,0" fill="none" stroke="#2a2a2a" stroke-width="0.7" stroke-dasharray="0.9 0.4"/></g><g transform="translate(191.6,134.4)" opacity="0.8"><path d="M-5,-1.2 q1.2,-1.6 2.5,0 t2.5,0 t2.5,0 t2.5,0 M-5,1.2 q1.2,-1.6 2.5,0 t2.5,0 t2.5,0 t2.5,0" fill="none" stroke="#2a2a2a" stroke-width="0.7" stroke-dasharray="0.9 0.4"/></g><g transform="translate(191.6,144)" opacity="0.8"><path d="M-5,-1.2 q1.2,-1.6 2.5,0 t2.5,0 t2.5,0 t2.5,0 M-5,1.2 q1.2,-1.6 2.5,0 t2.5,0 t2.5,0 t2.5,0" fill="none" stroke="#2a2a2a" stroke-width="0.7" stroke-dasharray="0.9 0.4"/></g><polygon points="209,115.3 210.9,114.7 210.9,148.2 209,147.7" fill="#4a6cc8"/><polygon points="210.9,114.7 222.2,105.9 222.2,137.5 210.9,148.2" fill="#d84a4a"/><polygon points="209,115.3 220.4,106.3 222.2,105.9 210.9,114.7" fill="#e06868"/><text x="217.2" y="130.6" font-family="Liberation Sans, sans-serif" font-size="8.7" fill="#fff" text-anchor="middle">S</text><path d="M123,149.8 L127.2,154.8 L124.7,154.8 L124.5,160.6 L121.5,160.6 L121.3,154.8 L118.8,154.8 Z" fill="url(#parr2)"/><path d="M139.3,149.8 L143.5,154.8 L141.0,154.8 L140.8,160.6 L137.8,160.6 L137.60000000000002,154.8 L135.10000000000002,154.8 Z" fill="url(#parr2)"/><polygon points="109,170.7 143.9,170.7 143.9,173 109,173" fill="#e05060"/><polygon points="143.9,170.7 154.7,160.2 154.7,162.4 143.9,173" fill="#e05060"/><polygon points="119.4,160.2 154.7,160.2 143.9,170.7 109,170.7" fill="#6a7cc8"/><polygon points="109,170.7 143.9,170.7 143.9,171.8 109,171.8" fill="#4a5cb0"/><text x="131" y="169" font-family="Liberation Sans, sans-serif" font-size="8.7" fill="#fff" text-anchor="middle">N</text><rect x="102.1" y="190.5" width="162.5" height="120.69999999999999" fill="#e3e4e4"/><rect x="297.1" y="190.5" width="162.5" height="120.69999999999999" fill="#e3e4e4"/><rect x="492.1" y="190.5" width="162.5" height="120.69999999999999" fill="#e3e4e4"/><text x="0.8" y="194" font-family="Liberation Sans, sans-serif" font-weight="bold" font-size="17">b</text><text x="75.4" y="200.8" font-family="Liberation Sans, sans-serif" font-size="9.3" fill="#111" text-anchor="middle">Work</text><text x="177.6" y="200.8" font-family="Liberation Sans, sans-serif" font-size="9.3" fill="#111" text-anchor="middle">Standby</text><text x="280.4" y="200.8" font-family="Liberation Sans, sans-serif" font-size="9.3" fill="#111" text-anchor="middle">Work</text><text x="380.8" y="200.8" font-family="Liberation Sans, sans-serif" font-size="9.3" fill="#111" text-anchor="middle">Standby</text><text x="475.2" y="200.8" font-family="Liberation Sans, sans-serif" font-size="9.3" fill="#111" text-anchor="middle">Work</text><text x="579.9" y="200.8" font-family="Liberation Sans, sans-serif" font-size="9.3" fill="#111" text-anchor="middle">Standby</text><line x1="491" y1="200.9" x2="673" y2="200.9" stroke="#2a5a84" stroke-width="0.8" stroke-dasharray="2.6 2"/><line x1="491" y1="211.2" x2="660" y2="211.2" stroke="#f07070" stroke-width="0.8" stroke-dasharray="2.6 2"/><line x1="491" y1="283" x2="660" y2="283" stroke="#f4a0a0" stroke-width="0.8" stroke-dasharray="2.6 2"/><line x1="491" y1="287.3" x2="673" y2="287.3" stroke="#2a5a84" stroke-width="0.8" stroke-dasharray="2.6 2"/><line x1="658.4" y1="213" x2="658.4" y2="281" stroke="#f07070" stroke-width="0.8"/><path d="M658.4,211.4 L656.6,215.4 L660.2,215.4 Z M658.4,282.8 L656.6,278.8 L660.2,278.8 Z" fill="#f07070"/><line x1="669.7" y1="203" x2="669.7" y2="285.5" stroke="#2a5a84" stroke-width="0.8"/><path d="M669.7,201.1 L667.8,205.3 L671.6,205.3 Z M669.7,287.2 L667.8,283 L671.6,283 Z" fill="#1f4d74"/><text x="654" y="233.1" font-family="Liberation Sans, sans-serif" font-size="10.3" fill="#f07070" text-anchor="end">Δ<tspan font-style="italic">T</tspan> = 46.5 °C</text><text x="669.6" y="260.2" font-family="Liberation Sans, sans-serif" font-size="10.3" fill="#1f4d74" text-anchor="end">Δ<tspan font-style="italic">T</tspan> = 57.3 °C</text><polyline points="69.6,303.71 70.8,303.45 72.0,303.65 73.2,303.33 74.4,303.46 75.6,303.42 76.8,303.13 78.0,303.28 79.2,303.01 80.4,303.12 81.6,302.91 82.8,302.76 84.0,302.92 85.2,303.36 86.4,303.12 87.6,303.02 88.8,303.27 90.0,303.71 91.2,303.74 92.4,303.62 93.6,303.99 94.8,303.53 96.0,303.83 97.2,303.60 98.4,303.32 99.6,303.08 100.8,303.06 102.0,303.45 103.2,303.23 104.4,303.40 105.6,303.57 106.8,303.48 108.0,303.56 109.2,303.24 110.4,302.99 111.6,302.93 112.8,303.26 114.0,303.32 115.2,303.27 116.4,303.45 117.6,303.49 118.8,303.40 120.0,303.73 121.2,303.90 122.4,303.67 123.6,303.77 124.8,303.80 126.0,304.12 127.2,304.24 128.4,303.98 129.6,304.34 130.8,303.93 132.0,303.86 133.2,304.08 134.4,303.77 135.6,303.81 136.8,303.48 138.0,303.74 139.2,304.02 140.4,304.08 141.6,304.36 142.8,304.13 144.0,304.26 145.2,304.29 146.4,304.29 147.6,304.20 148.8,304.44 150.0,304.71 151.2,304.53 152.4,304.55 153.6,304.08 154.8,304.25 156.0,304.32 157.2,304.66 158.4,304.78 159.6,304.43 160.8,304.26 162.0,304.35 163.2,303.90 164.4,303.92 165.6,303.69 166.8,303.48 168.0,303.27 169.2,303.68 170.4,303.48 171.6,303.42 172.8,303.49 174.0,303.92 175.2,303.61 176.4,303.67 177.6,303.79 178.8,304.15 180.0,304.36 181.2,304.55 182.4,304.23 183.6,304.09 184.8,303.94 186.0,304.24 187.2,304.53 188.4,304.09 189.6,303.78 190.8,303.60 192.0,303.45 193.2,303.54 194.4,303.69 195.6,303.54 196.8,303.22 198.0,303.31 199.2,303.33 200.4,303.51 201.6,303.95 202.8,304.07 204.0,304.01 205.2,304.06 206.4,304.13 207.6,303.69 208.8,304.04 210.0,304.20 211.2,304.40 212.4,304.49 213.6,304.23 214.8,304.04 216.0,303.67 217.2,303.81 218.4,303.46 219.6,303.21 220.8,303.13 222.0,303.04 223.2,303.11 224.4,302.94 225.6,302.78 226.8,302.77 228.0,302.74 229.2,302.92 230.4,302.79 231.6,303.38 232.8,303.61 234.0,303.42 235.2,303.36 236.4,303.40 237.6,303.45 238.8,303.29 240.0,303.76 241.2,304.23 242.4,304.17 243.6,304.14 244.8,303.80 246.0,303.57 247.2,303.59 248.4,303.55 249.6,303.97 250.8,303.76 252.0,303.50 253.2,304.05 254.4,304.12 255.6,303.88 256.8,304.02 258.0,303.71 259.2,303.89 260.4,304.39 261.6,304.67 262.8,304.75 264.0,304.47 265.2,304.34 266.4,304.09 267.6,304.39 268.8,304.42 270.0,304.65 271.2,304.46 272.4,304.23 273.6,304.53 274.8,304.90 276.0,305.07 277.2,305.16 278.4,305.24 279.6,305.24 280.8,304.82 282.0,304.74 283.2,304.55 284.4,304.15 285.6,303.84 286.8,303.81 288.0,303.77 289.2,304.09 290.4,304.53 291.6,304.46 292.8,304.79 294.0,305.08 295.2,305.26 296.4,304.92 297.6,304.55 298.8,304.28 300.0,304.04 301.2,303.87 302.4,304.07 303.6,304.43 304.8,304.66 306.0,304.53 307.2,304.57 308.4,304.71 309.6,304.24 310.8,304.35 312.0,304.62 313.2,304.72 314.4,304.76 315.6,304.57 316.8,304.18 318.0,304.38 319.2,304.15 320.4,304.35 321.6,304.64 322.8,304.39 324.0,304.20 325.2,304.49 326.4,304.52 327.6,304.10 328.8,303.75 330.0,303.50 331.2,303.91 332.4,304.14 333.6,303.78 334.8,304.05 336.0,304.38 337.2,304.36 338.4,304.10 339.6,304.06 340.8,303.70 342.0,303.33 343.2,303.82 344.4,303.92 345.6,303.91 346.8,304.22 348.0,304.05 349.2,304.28 350.4,304.41 351.6,304.02 352.8,303.76 354.0,303.60 355.2,303.43 356.4,303.59 357.6,303.45 358.8,303.47 360.0,303.26 361.2,303.72 362.4,303.63 363.6,303.64 364.8,303.76 366.0,304.10 367.2,303.97 368.4,304.28 369.6,304.18 370.8,304.13 372.0,304.09 373.2,303.66 374.4,303.67 375.6,303.48 376.8,303.20 378.0,303.63 379.2,303.45 380.4,303.56 381.6,303.84 382.8,303.92 384.0,303.80 385.2,303.87 386.4,303.95 387.6,304.19 388.8,303.84 390.0,303.94 391.2,303.76 392.4,303.66 393.6,303.97 394.8,304.00 396.0,304.07 397.2,304.28 398.4,304.55 399.6,304.39 400.8,304.40 402.0,304.32 403.2,304.27 404.4,304.38 405.6,304.26 406.8,304.24 408.0,304.18 409.2,304.50 410.4,304.55 411.6,304.72 412.8,304.91 414.0,304.50 415.2,304.43 416.4,304.68 417.6,304.78 418.8,304.30 420.0,303.92 421.2,303.88 422.4,303.56 423.6,303.45 424.8,303.23 426.0,303.54 427.2,303.86 428.4,304.19 429.6,303.84 430.8,304.02 432.0,304.10 433.2,303.75 434.4,304.08 435.6,304.39 436.8,304.01 438.0,304.32 439.2,304.10 440.4,304.00 441.6,304.33 442.8,304.45 444.0,303.99 445.2,303.87 446.4,303.84 447.6,303.67 448.8,303.43 450.0,303.34 451.2,303.60 452.4,303.23 453.6,303.37 454.8,303.39 456.0,303.06 457.2,303.07 458.4,303.31 459.6,303.39 460.8,303.10 462.0,303.62 463.2,303.85 464.4,304.16 465.6,303.71 466.8,303.50 468.0,303.16 469.2,303.50 470.4,303.35 471.6,303.13 472.8,303.19 474.0,303.64 475.2,303.90 476.4,303.65 477.6,303.38 478.8,303.79 480.0,303.83 481.2,303.96 482.4,303.58 483.6,303.27 484.8,303.55 486.0,303.55 487.2,303.27 488.4,303.76 489.6,303.89 490.8,304.12 492.0,303.73 493.2,304.06 494.4,303.67 495.6,304.03 496.8,303.98 498.0,303.85 499.2,303.93 500.4,304.29 501.6,304.04 502.8,303.75 504.0,303.86 505.2,303.71 506.4,303.50 507.6,303.39 508.8,303.22 510.0,303.22 511.2,303.31 512.4,303.38 513.6,303.80 514.8,303.74 516.0,303.87 517.2,303.71 518.4,303.74 519.6,303.49 520.8,303.50 522.0,303.32 523.2,303.76 524.4,303.94 525.6,303.80 526.8,303.92 528.0,304.38 529.2,304.06 530.4,304.40 531.6,304.34 532.8,304.34 534.0,304.62 535.2,304.48 536.4,304.46 537.6,304.59 538.8,304.92 540.0,304.66 541.2,304.86 542.4,304.90 543.6,304.87 544.8,304.67 546.0,304.47 547.2,304.08 548.4,303.85 549.6,303.62 550.8,303.99 552.0,303.87 553.2,303.71 554.4,303.52 555.6,303.98 556.8,304.34 558.0,304.45 559.2,304.22 560.4,304.01 561.6,303.89 562.8,303.93 564.0,303.72 565.2,303.78 566.4,303.68 567.6,304.16 568.8,304.53 570.0,304.46 571.2,304.16 572.4,304.51 573.6,304.25 574.8,304.08 576.0,303.67 577.2,303.67 578.4,303.73 579.6,303.80 580.8,303.61 582.0,303.71 583.2,303.38 584.4,303.34 585.6,303.16 586.8,303.28 588.0,303.08 589.2,302.91 590.4,303.01 591.6,303.03 592.8,303.32 594.0,303.50 595.2,303.81 596.4,303.96 597.6,304.13 598.8,304.38 600.0,304.18 601.2,303.98 602.4,304.36 603.6,303.97 604.8,304.15 606.0,304.21 607.2,303.78 608.4,304.10 609.6,304.38 610.8,304.38 612.0,304.47 613.2,304.60 614.4,304.16 615.6,304.15 616.8,304.12 618.0,304.37 619.2,304.53 620.4,304.67 621.6,304.59 622.8,304.78 624.0,304.75 625.2,304.74 626.4,304.37 627.6,303.93 628.8,303.69 630.0,303.69 631.2,303.49 632.4,303.93 633.6,304.04 634.8,304.18 636.0,304.28 637.2,304.40 638.4,304.35 639.6,303.92 640.8,304.23 642.0,304.43 643.2,304.38 644.4,304.37 645.6,304.46" fill="none" stroke="#3a9ab8" stroke-width="2.5" stroke-linejoin="round"/><circle cx="70.4" cy="271.5" r="2.2" fill="#fff" stroke="#f06a6a" stroke-width="1.1"/><circle cx="71.6" cy="262.4" r="2.2" fill="#fff" stroke="#f06a6a" stroke-width="1.1"/><circle cx="74.4" cy="253.5" r="2.2" fill="#fff" stroke="#f06a6a" stroke-width="1.1"/><circle cx="76.8" cy="245.4" r="2.2" fill="#fff" stroke="#f06a6a" stroke-width="1.1"/><circle cx="80.4" cy="235.7" r="2.2" fill="#fff" stroke="#f06a6a" stroke-width="1.1"/><circle cx="83.9" cy="226.5" r="2.2" fill="#fff" stroke="#f06a6a" stroke-width="1.1"/><circle cx="87.9" cy="219.7" r="2.2" fill="#fff" stroke="#f06a6a" stroke-width="1.1"/><circle cx="94.6" cy="212.7" r="2.2" fill="#fff" stroke="#f06a6a" stroke-width="1.1"/><circle cx="102" cy="207.4" r="2.2" fill="#fff" stroke="#f06a6a" stroke-width="1.1"/><circle cx="102.3" cy="217" r="2.2" fill="#fff" stroke="#f06a6a" stroke-width="1.1"/><circle cx="105.3" cy="227" r="2.2" fill="#fff" stroke="#f06a6a" stroke-width="1.1"/><circle cx="109.3" cy="237.6" r="2.2" fill="#fff" stroke="#f06a6a" stroke-width="1.1"/><circle cx="112.8" cy="244.2" r="2.2" fill="#fff" stroke="#f06a6a" stroke-width="1.1"/><circle cx="119.8" cy="251.2" r="2.2" fill="#fff" stroke="#f06a6a" stroke-width="1.1"/><circle cx="126.8" cy="255.8" r="2.2" fill="#fff" stroke="#f06a6a" stroke-width="1.1"/><circle cx="137.7" cy="258.1" r="2.2" fill="#fff" stroke="#f06a6a" stroke-width="1.1"/><circle cx="145.4" cy="258.1" r="2.2" fill="#fff" stroke="#f06a6a" stroke-width="1.1"/><circle cx="152.6" cy="258.6" r="2.2" fill="#fff" stroke="#f06a6a" stroke-width="1.1"/><circle cx="159.8" cy="259.1" r="2.2" fill="#fff" stroke="#f06a6a" stroke-width="1.1"/><circle cx="167" cy="259.8" r="2.2" fill="#fff" stroke="#f06a6a" stroke-width="1.1"/><circle cx="174.2" cy="260.1" r="2.2" fill="#fff" stroke="#f06a6a" stroke-width="1.1"/><circle cx="181.4" cy="260.6" r="2.2" fill="#fff" stroke="#f06a6a" stroke-width="1.1"/><circle cx="188.6" cy="261.8" r="2.2" fill="#fff" stroke="#f06a6a" stroke-width="1.1"/><circle cx="195.8" cy="263.5" r="2.2" fill="#fff" stroke="#f06a6a" stroke-width="1.1"/><circle cx="203" cy="265.5" r="2.2" fill="#fff" stroke="#f06a6a" stroke-width="1.1"/><circle cx="210.2" cy="268.5" r="2.2" fill="#fff" stroke="#f06a6a" stroke-width="1.1"/><circle cx="217.4" cy="271" r="2.2" fill="#fff" stroke="#f06a6a" stroke-width="1.1"/><circle cx="224.6" cy="273" r="2.2" fill="#fff" stroke="#f06a6a" stroke-width="1.1"/><circle cx="231.8" cy="274.7" r="2.2" fill="#fff" stroke="#f06a6a" stroke-width="1.1"/><circle cx="239" cy="276.4" r="2.2" fill="#fff" stroke="#f06a6a" stroke-width="1.1"/><circle cx="246.4" cy="279.2" r="2.2" fill="#fff" stroke="#f06a6a" stroke-width="1.1"/><circle cx="255.1" cy="280.4" r="2.2" fill="#fff" stroke="#f06a6a" stroke-width="1.1"/><circle cx="263.8" cy="281.2" r="2.2" fill="#fff" stroke="#f06a6a" stroke-width="1.1"/><circle cx="265.3" cy="268.4" r="2.2" fill="#fff" stroke="#f06a6a" stroke-width="1.1"/><circle cx="267.6" cy="257.9" r="2.2" fill="#fff" stroke="#f06a6a" stroke-width="1.1"/><circle cx="271.5" cy="246.1" r="2.2" fill="#fff" stroke="#f06a6a" stroke-width="1.1"/><circle cx="275" cy="237.3" r="2.2" fill="#fff" stroke="#f06a6a" stroke-width="1.1"/><circle cx="278.8" cy="229" r="2.2" fill="#fff" stroke="#f06a6a" stroke-width="1.1"/><circle cx="283.5" cy="220.5" r="2.2" fill="#fff" stroke="#f06a6a" stroke-width="1.1"/><circle cx="289.5" cy="213.1" r="2.2" fill="#fff" stroke="#f06a6a" stroke-width="1.1"/><circle cx="296.5" cy="208.3" r="2.2" fill="#fff" stroke="#f06a6a" stroke-width="1.1"/><circle cx="299" cy="221.8" r="2.2" fill="#fff" stroke="#f06a6a" stroke-width="1.1"/><circle cx="301.8" cy="233.5" r="2.2" fill="#fff" stroke="#f06a6a" stroke-width="1.1"/><circle cx="307.3" cy="244.5" r="2.2" fill="#fff" stroke="#f06a6a" stroke-width="1.1"/><circle cx="315.1" cy="252.3" r="2.2" fill="#fff" stroke="#f06a6a" stroke-width="1.1"/><circle cx="325.8" cy="257.3" r="2.2" fill="#fff" stroke="#f06a6a" stroke-width="1.1"/><circle cx="332.5" cy="258.1" r="2.2" fill="#fff" stroke="#f06a6a" stroke-width="1.1"/><circle cx="339.7" cy="258.7" r="2.2" fill="#fff" stroke="#f06a6a" stroke-width="1.1"/><circle cx="347.1" cy="259.1" r="2.2" fill="#fff" stroke="#f06a6a" stroke-width="1.1"/><circle cx="354.3" cy="259.6" r="2.2" fill="#fff" stroke="#f06a6a" stroke-width="1.1"/><circle cx="361.6" cy="260" r="2.2" fill="#fff" stroke="#f06a6a" stroke-width="1.1"/><circle cx="369" cy="260.6" r="2.2" fill="#fff" stroke="#f06a6a" stroke-width="1.1"/><circle cx="376.2" cy="262.2" r="2.2" fill="#fff" stroke="#f06a6a" stroke-width="1.1"/><circle cx="383.2" cy="263.6" r="2.2" fill="#fff" stroke="#f06a6a" stroke-width="1.1"/><circle cx="390.4" cy="266.1" r="2.2" fill="#fff" stroke="#f06a6a" stroke-width="1.1"/><circle cx="397.7" cy="269" r="2.2" fill="#fff" stroke="#f06a6a" stroke-width="1.1"/><circle cx="404.9" cy="272.1" r="2.2" fill="#fff" stroke="#f06a6a" stroke-width="1.1"/><circle cx="412.1" cy="274.4" r="2.2" fill="#fff" stroke="#f06a6a" stroke-width="1.1"/><circle cx="419.3" cy="276.2" r="2.2" fill="#fff" stroke="#f06a6a" stroke-width="1.1"/><circle cx="426.5" cy="278.3" r="2.2" fill="#fff" stroke="#f06a6a" stroke-width="1.1"/><circle cx="433.4" cy="280.1" r="2.2" fill="#fff" stroke="#f06a6a" stroke-width="1.1"/><circle cx="440.8" cy="281.2" r="2.2" fill="#fff" stroke="#f06a6a" stroke-width="1.1"/><circle cx="448.2" cy="282.8" r="2.2" fill="#fff" stroke="#f06a6a" stroke-width="1.1"/><circle cx="458.9" cy="284" r="2.2" fill="#fff" stroke="#f06a6a" stroke-width="1.1"/><circle cx="459.6" cy="271.7" r="2.2" fill="#fff" stroke="#f06a6a" stroke-width="1.1"/><circle cx="463.1" cy="258.3" r="2.2" fill="#fff" stroke="#f06a6a" stroke-width="1.1"/><circle cx="466" cy="247.5" r="2.2" fill="#fff" stroke="#f06a6a" stroke-width="1.1"/><circle cx="469.9" cy="239.3" r="2.2" fill="#fff" stroke="#f06a6a" stroke-width="1.1"/><circle cx="473.8" cy="230.2" r="2.2" fill="#fff" stroke="#f06a6a" stroke-width="1.1"/><circle cx="476.7" cy="222.8" r="2.2" fill="#fff" stroke="#f06a6a" stroke-width="1.1"/><circle cx="484.1" cy="216" r="2.2" fill="#fff" stroke="#f06a6a" stroke-width="1.1"/><circle cx="491.8" cy="211.2" r="2.2" fill="#fff" stroke="#f06a6a" stroke-width="1.1"/><circle cx="492.6" cy="219.1" r="2.2" fill="#fff" stroke="#f06a6a" stroke-width="1.1"/><circle cx="495.1" cy="231.2" r="2.2" fill="#fff" stroke="#f06a6a" stroke-width="1.1"/><circle cx="498.1" cy="241.3" r="2.2" fill="#fff" stroke="#f06a6a" stroke-width="1.1"/><circle cx="502.2" cy="246" r="2.2" fill="#fff" stroke="#f06a6a" stroke-width="1.1"/><circle cx="509.4" cy="252.5" r="2.2" fill="#fff" stroke="#f06a6a" stroke-width="1.1"/><circle cx="516.6" cy="256.8" r="2.2" fill="#fff" stroke="#f06a6a" stroke-width="1.1"/><circle cx="523.8" cy="257.8" r="2.2" fill="#fff" stroke="#f06a6a" stroke-width="1.1"/><circle cx="530.9" cy="257.8" r="2.2" fill="#fff" stroke="#f06a6a" stroke-width="1.1"/><circle cx="538.3" cy="258.4" r="2.2" fill="#fff" stroke="#f06a6a" stroke-width="1.1"/><circle cx="545.7" cy="258.8" r="2.2" fill="#fff" stroke="#f06a6a" stroke-width="1.1"/><circle cx="552.7" cy="259.3" r="2.2" fill="#fff" stroke="#f06a6a" stroke-width="1.1"/><circle cx="559.8" cy="259.8" r="2.2" fill="#fff" stroke="#f06a6a" stroke-width="1.1"/><circle cx="567.2" cy="260.3" r="2.2" fill="#fff" stroke="#f06a6a" stroke-width="1.1"/><circle cx="574.4" cy="262" r="2.2" fill="#fff" stroke="#f06a6a" stroke-width="1.1"/><circle cx="581.6" cy="263.6" r="2.2" fill="#fff" stroke="#f06a6a" stroke-width="1.1"/><circle cx="589" cy="266.5" r="2.2" fill="#fff" stroke="#f06a6a" stroke-width="1.1"/><circle cx="596.1" cy="269" r="2.2" fill="#fff" stroke="#f06a6a" stroke-width="1.1"/><circle cx="603.3" cy="271.7" r="2.2" fill="#fff" stroke="#f06a6a" stroke-width="1.1"/><circle cx="610.5" cy="273.7" r="2.2" fill="#fff" stroke="#f06a6a" stroke-width="1.1"/><circle cx="617.8" cy="276" r="2.2" fill="#fff" stroke="#f06a6a" stroke-width="1.1"/><circle cx="624.9" cy="278" r="2.2" fill="#fff" stroke="#f06a6a" stroke-width="1.1"/><circle cx="632.1" cy="279.2" r="2.2" fill="#fff" stroke="#f06a6a" stroke-width="1.1"/><circle cx="639.5" cy="280.5" r="2.2" fill="#fff" stroke="#f06a6a" stroke-width="1.1"/><circle cx="646.5" cy="282.1" r="2.2" fill="#fff" stroke="#f06a6a" stroke-width="1.1"/><circle cx="653.7" cy="282.8" r="2.2" fill="#fff" stroke="#f06a6a" stroke-width="1.1"/><circle cx="69.6" cy="278.6" r="2.4" fill="#fff" stroke="#1b4b73" stroke-width="0.8"/><path d="M67.20,278.80 A2.4,2.4 0 0 1 72.00,278.80 Z" fill="#1b4b73" stroke="#1b4b73" stroke-width="0.8"/><circle cx="70.4" cy="268.5" r="2.4" fill="#fff" stroke="#1b4b73" stroke-width="0.8"/><path d="M68.00,268.70 A2.4,2.4 0 0 1 72.80,268.70 Z" fill="#1b4b73" stroke="#1b4b73" stroke-width="0.8"/><circle cx="71.6" cy="258.6" r="2.4" fill="#fff" stroke="#1b4b73" stroke-width="0.8"/><path d="M69.20,258.80 A2.4,2.4 0 0 1 74.00,258.80 Z" fill="#1b4b73" stroke="#1b4b73" stroke-width="0.8"/><circle cx="74.4" cy="250.3" r="2.4" fill="#fff" stroke="#1b4b73" stroke-width="0.8"/><path d="M72.00,250.50 A2.4,2.4 0 0 1 76.80,250.50 Z" fill="#1b4b73" stroke="#1b4b73" stroke-width="0.8"/><circle cx="76.7" cy="240.2" r="2.4" fill="#fff" stroke="#1b4b73" stroke-width="0.8"/><path d="M74.30,240.40 A2.4,2.4 0 0 1 79.10,240.40 Z" fill="#1b4b73" stroke="#1b4b73" stroke-width="0.8"/><circle cx="80.3" cy="229.8" r="2.4" fill="#fff" stroke="#1b4b73" stroke-width="0.8"/><path d="M77.90,230.00 A2.4,2.4 0 0 1 82.70,230.00 Z" fill="#1b4b73" stroke="#1b4b73" stroke-width="0.8"/><circle cx="85.7" cy="218.3" r="2.4" fill="#fff" stroke="#1b4b73" stroke-width="0.8"/><path d="M83.30,218.50 A2.4,2.4 0 0 1 88.10,218.50 Z" fill="#1b4b73" stroke="#1b4b73" stroke-width="0.8"/><circle cx="91.8" cy="209.5" r="2.4" fill="#fff" stroke="#1b4b73" stroke-width="0.8"/><path d="M89.40,209.70 A2.4,2.4 0 0 1 94.20,209.70 Z" fill="#1b4b73" stroke="#1b4b73" stroke-width="0.8"/><circle cx="96.7" cy="202.2" r="2.4" fill="#fff" stroke="#1b4b73" stroke-width="0.8"/><path d="M94.30,202.40 A2.4,2.4 0 0 1 99.10,202.40 Z" fill="#1b4b73" stroke="#1b4b73" stroke-width="0.8"/><circle cx="102.0" cy="196.6" r="2.4" fill="#fff" stroke="#1b4b73" stroke-width="0.8"/><path d="M99.60,196.80 A2.4,2.4 0 0 1 104.40,196.80 Z" fill="#1b4b73" stroke="#1b4b73" stroke-width="0.8"/><circle cx="102.7" cy="206.2" r="2.4" fill="#fff" stroke="#1b4b73" stroke-width="0.8"/><path d="M100.30,206.40 A2.4,2.4 0 0 1 105.10,206.40 Z" fill="#1b4b73" stroke="#1b4b73" stroke-width="0.8"/><circle cx="104.4" cy="216.5" r="2.4" fill="#fff" stroke="#1b4b73" stroke-width="0.8"/><path d="M102.00,216.70 A2.4,2.4 0 0 1 106.80,216.70 Z" fill="#1b4b73" stroke="#1b4b73" stroke-width="0.8"/><circle cx="107.6" cy="228.8" r="2.4" fill="#fff" stroke="#1b4b73" stroke-width="0.8"/><path d="M105.20,229.00 A2.4,2.4 0 0 1 110.00,229.00 Z" fill="#1b4b73" stroke="#1b4b73" stroke-width="0.8"/><circle cx="110.3" cy="237.3" r="2.4" fill="#fff" stroke="#1b4b73" stroke-width="0.8"/><path d="M107.90,237.50 A2.4,2.4 0 0 1 112.70,237.50 Z" fill="#1b4b73" stroke="#1b4b73" stroke-width="0.8"/><circle cx="116.4" cy="246.4" r="2.4" fill="#fff" stroke="#1b4b73" stroke-width="0.8"/><path d="M114.00,246.60 A2.4,2.4 0 0 1 118.80,246.60 Z" fill="#1b4b73" stroke="#1b4b73" stroke-width="0.8"/><circle cx="123.5" cy="253.1" r="2.4" fill="#fff" stroke="#1b4b73" stroke-width="0.8"/><path d="M121.10,253.30 A2.4,2.4 0 0 1 125.90,253.30 Z" fill="#1b4b73" stroke="#1b4b73" stroke-width="0.8"/><circle cx="130.8" cy="258.1" r="2.4" fill="#fff" stroke="#1b4b73" stroke-width="0.8"/><path d="M128.40,258.30 A2.4,2.4 0 0 1 133.20,258.30 Z" fill="#1b4b73" stroke="#1b4b73" stroke-width="0.8"/><circle cx="141.4" cy="259.3" r="2.4" fill="#fff" stroke="#1b4b73" stroke-width="0.8"/><path d="M139.00,259.50 A2.4,2.4 0 0 1 143.80,259.50 Z" fill="#1b4b73" stroke="#1b4b73" stroke-width="0.8"/><circle cx="148.9" cy="259.8" r="2.4" fill="#fff" stroke="#1b4b73" stroke-width="0.8"/><path d="M146.50,260.00 A2.4,2.4 0 0 1 151.30,260.00 Z" fill="#1b4b73" stroke="#1b4b73" stroke-width="0.8"/><circle cx="156.3" cy="260.3" r="2.4" fill="#fff" stroke="#1b4b73" stroke-width="0.8"/><path d="M153.90,260.50 A2.4,2.4 0 0 1 158.70,260.50 Z" fill="#1b4b73" stroke="#1b4b73" stroke-width="0.8"/><circle cx="163.5" cy="260.8" r="2.4" fill="#fff" stroke="#1b4b73" stroke-width="0.8"/><path d="M161.10,261.00 A2.4,2.4 0 0 1 165.90,261.00 Z" fill="#1b4b73" stroke="#1b4b73" stroke-width="0.8"/><circle cx="170.7" cy="261.3" r="2.4" fill="#fff" stroke="#1b4b73" stroke-width="0.8"/><path d="M168.30,261.50 A2.4,2.4 0 0 1 173.10,261.50 Z" fill="#1b4b73" stroke="#1b4b73" stroke-width="0.8"/><circle cx="177.7" cy="262" r="2.4" fill="#fff" stroke="#1b4b73" stroke-width="0.8"/><path d="M175.30,262.20 A2.4,2.4 0 0 1 180.10,262.20 Z" fill="#1b4b73" stroke="#1b4b73" stroke-width="0.8"/><circle cx="185.1" cy="263" r="2.4" fill="#fff" stroke="#1b4b73" stroke-width="0.8"/><path d="M182.70,263.20 A2.4,2.4 0 0 1 187.50,263.20 Z" fill="#1b4b73" stroke="#1b4b73" stroke-width="0.8"/><circle cx="192.3" cy="264.5" r="2.4" fill="#fff" stroke="#1b4b73" stroke-width="0.8"/><path d="M189.90,264.70 A2.4,2.4 0 0 1 194.70,264.70 Z" fill="#1b4b73" stroke="#1b4b73" stroke-width="0.8"/><circle cx="199.3" cy="266.3" r="2.4" fill="#fff" stroke="#1b4b73" stroke-width="0.8"/><path d="M196.90,266.50 A2.4,2.4 0 0 1 201.70,266.50 Z" fill="#1b4b73" stroke="#1b4b73" stroke-width="0.8"/><circle cx="206.7" cy="268.3" r="2.4" fill="#fff" stroke="#1b4b73" stroke-width="0.8"/><path d="M204.30,268.50 A2.4,2.4 0 0 1 209.10,268.50 Z" fill="#1b4b73" stroke="#1b4b73" stroke-width="0.8"/><circle cx="213.7" cy="271.2" r="2.4" fill="#fff" stroke="#1b4b73" stroke-width="0.8"/><path d="M211.30,271.40 A2.4,2.4 0 0 1 216.10,271.40 Z" fill="#1b4b73" stroke="#1b4b73" stroke-width="0.8"/><circle cx="221.1" cy="273.7" r="2.4" fill="#fff" stroke="#1b4b73" stroke-width="0.8"/><path d="M218.70,273.90 A2.4,2.4 0 0 1 223.50,273.90 Z" fill="#1b4b73" stroke="#1b4b73" stroke-width="0.8"/><circle cx="228.3" cy="276.2" r="2.4" fill="#fff" stroke="#1b4b73" stroke-width="0.8"/><path d="M225.90,276.40 A2.4,2.4 0 0 1 230.70,276.40 Z" fill="#1b4b73" stroke="#1b4b73" stroke-width="0.8"/><circle cx="235.3" cy="278.4" r="2.4" fill="#fff" stroke="#1b4b73" stroke-width="0.8"/><path d="M232.90,278.60 A2.4,2.4 0 0 1 237.70,278.60 Z" fill="#1b4b73" stroke="#1b4b73" stroke-width="0.8"/><circle cx="242.5" cy="280.4" r="2.4" fill="#fff" stroke="#1b4b73" stroke-width="0.8"/><path d="M240.10,280.60 A2.4,2.4 0 0 1 244.90,280.60 Z" fill="#1b4b73" stroke="#1b4b73" stroke-width="0.8"/><circle cx="251.6" cy="282.9" r="2.4" fill="#fff" stroke="#1b4b73" stroke-width="0.8"/><path d="M249.20,283.10 A2.4,2.4 0 0 1 254.00,283.10 Z" fill="#1b4b73" stroke="#1b4b73" stroke-width="0.8"/><circle cx="258.4" cy="284.1" r="2.4" fill="#fff" stroke="#1b4b73" stroke-width="0.8"/><path d="M256.00,284.30 A2.4,2.4 0 0 1 260.80,284.30 Z" fill="#1b4b73" stroke="#1b4b73" stroke-width="0.8"/><circle cx="264.3" cy="284.8" r="2.4" fill="#fff" stroke="#1b4b73" stroke-width="0.8"/><path d="M261.90,285.00 A2.4,2.4 0 0 1 266.70,285.00 Z" fill="#1b4b73" stroke="#1b4b73" stroke-width="0.8"/><circle cx="265.7" cy="274.6" r="2.4" fill="#fff" stroke="#1b4b73" stroke-width="0.8"/><path d="M263.30,274.80 A2.4,2.4 0 0 1 268.10,274.80 Z" fill="#1b4b73" stroke="#1b4b73" stroke-width="0.8"/><circle cx="266.6" cy="264.5" r="2.4" fill="#fff" stroke="#1b4b73" stroke-width="0.8"/><path d="M264.20,264.70 A2.4,2.4 0 0 1 269.00,264.70 Z" fill="#1b4b73" stroke="#1b4b73" stroke-width="0.8"/><circle cx="268" cy="255.2" r="2.4" fill="#fff" stroke="#1b4b73" stroke-width="0.8"/><path d="M265.60,255.40 A2.4,2.4 0 0 1 270.40,255.40 Z" fill="#1b4b73" stroke="#1b4b73" stroke-width="0.8"/><circle cx="271.5" cy="243.5" r="2.4" fill="#fff" stroke="#1b4b73" stroke-width="0.8"/><path d="M269.10,243.70 A2.4,2.4 0 0 1 273.90,243.70 Z" fill="#1b4b73" stroke="#1b4b73" stroke-width="0.8"/><circle cx="275.2" cy="233.9" r="2.4" fill="#fff" stroke="#1b4b73" stroke-width="0.8"/><path d="M272.80,234.10 A2.4,2.4 0 0 1 277.60,234.10 Z" fill="#1b4b73" stroke="#1b4b73" stroke-width="0.8"/><circle cx="279.2" cy="224.4" r="2.4" fill="#fff" stroke="#1b4b73" stroke-width="0.8"/><path d="M276.80,224.60 A2.4,2.4 0 0 1 281.60,224.60 Z" fill="#1b4b73" stroke="#1b4b73" stroke-width="0.8"/><circle cx="284.5" cy="214.7" r="2.4" fill="#fff" stroke="#1b4b73" stroke-width="0.8"/><path d="M282.10,214.90 A2.4,2.4 0 0 1 286.90,214.90 Z" fill="#1b4b73" stroke="#1b4b73" stroke-width="0.8"/><circle cx="289.5" cy="206.3" r="2.4" fill="#fff" stroke="#1b4b73" stroke-width="0.8"/><path d="M287.10,206.50 A2.4,2.4 0 0 1 291.90,206.50 Z" fill="#1b4b73" stroke="#1b4b73" stroke-width="0.8"/><circle cx="296.7" cy="200.5" r="2.4" fill="#fff" stroke="#1b4b73" stroke-width="0.8"/><path d="M294.30,200.70 A2.4,2.4 0 0 1 299.10,200.70 Z" fill="#1b4b73" stroke="#1b4b73" stroke-width="0.8"/><circle cx="297.7" cy="211.6" r="2.4" fill="#fff" stroke="#1b4b73" stroke-width="0.8"/><path d="M295.30,211.80 A2.4,2.4 0 0 1 300.10,211.80 Z" fill="#1b4b73" stroke="#1b4b73" stroke-width="0.8"/><circle cx="299.2" cy="223.8" r="2.4" fill="#fff" stroke="#1b4b73" stroke-width="0.8"/><path d="M296.80,224.00 A2.4,2.4 0 0 1 301.60,224.00 Z" fill="#1b4b73" stroke="#1b4b73" stroke-width="0.8"/><circle cx="301.5" cy="234.4" r="2.4" fill="#fff" stroke="#1b4b73" stroke-width="0.8"/><path d="M299.10,234.60 A2.4,2.4 0 0 1 303.90,234.60 Z" fill="#1b4b73" stroke="#1b4b73" stroke-width="0.8"/><circle cx="307.3" cy="246.1" r="2.4" fill="#fff" stroke="#1b4b73" stroke-width="0.8"/><path d="M304.90,246.30 A2.4,2.4 0 0 1 309.70,246.30 Z" fill="#1b4b73" stroke="#1b4b73" stroke-width="0.8"/><circle cx="314.7" cy="253.2" r="2.4" fill="#fff" stroke="#1b4b73" stroke-width="0.8"/><path d="M312.30,253.40 A2.4,2.4 0 0 1 317.10,253.40 Z" fill="#1b4b73" stroke="#1b4b73" stroke-width="0.8"/><circle cx="321.9" cy="258.1" r="2.4" fill="#fff" stroke="#1b4b73" stroke-width="0.8"/><path d="M319.50,258.30 A2.4,2.4 0 0 1 324.30,258.30 Z" fill="#1b4b73" stroke="#1b4b73" stroke-width="0.8"/><circle cx="329.3" cy="259.4" r="2.4" fill="#fff" stroke="#1b4b73" stroke-width="0.8"/><path d="M326.90,259.60 A2.4,2.4 0 0 1 331.70,259.60 Z" fill="#1b4b73" stroke="#1b4b73" stroke-width="0.8"/><circle cx="336.4" cy="260" r="2.4" fill="#fff" stroke="#1b4b73" stroke-width="0.8"/><path d="M334.00,260.20 A2.4,2.4 0 0 1 338.80,260.20 Z" fill="#1b4b73" stroke="#1b4b73" stroke-width="0.8"/><circle cx="343.6" cy="260.6" r="2.4" fill="#fff" stroke="#1b4b73" stroke-width="0.8"/><path d="M341.20,260.80 A2.4,2.4 0 0 1 346.00,260.80 Z" fill="#1b4b73" stroke="#1b4b73" stroke-width="0.8"/><circle cx="350.6" cy="261" r="2.4" fill="#fff" stroke="#1b4b73" stroke-width="0.8"/><path d="M348.20,261.20 A2.4,2.4 0 0 1 353.00,261.20 Z" fill="#1b4b73" stroke="#1b4b73" stroke-width="0.8"/><circle cx="358" cy="262" r="2.4" fill="#fff" stroke="#1b4b73" stroke-width="0.8"/><path d="M355.60,262.20 A2.4,2.4 0 0 1 360.40,262.20 Z" fill="#1b4b73" stroke="#1b4b73" stroke-width="0.8"/><circle cx="365.1" cy="262.9" r="2.4" fill="#fff" stroke="#1b4b73" stroke-width="0.8"/><path d="M362.70,263.10 A2.4,2.4 0 0 1 367.50,263.10 Z" fill="#1b4b73" stroke="#1b4b73" stroke-width="0.8"/><circle cx="372.5" cy="263.9" r="2.4" fill="#fff" stroke="#1b4b73" stroke-width="0.8"/><path d="M370.10,264.10 A2.4,2.4 0 0 1 374.90,264.10 Z" fill="#1b4b73" stroke="#1b4b73" stroke-width="0.8"/><circle cx="379.7" cy="266.5" r="2.4" fill="#fff" stroke="#1b4b73" stroke-width="0.8"/><path d="M377.30,266.70 A2.4,2.4 0 0 1 382.10,266.70 Z" fill="#1b4b73" stroke="#1b4b73" stroke-width="0.8"/><circle cx="387.1" cy="270" r="2.4" fill="#fff" stroke="#1b4b73" stroke-width="0.8"/><path d="M384.70,270.20 A2.4,2.4 0 0 1 389.50,270.20 Z" fill="#1b4b73" stroke="#1b4b73" stroke-width="0.8"/><circle cx="394.3" cy="272.7" r="2.4" fill="#fff" stroke="#1b4b73" stroke-width="0.8"/><path d="M391.90,272.90 A2.4,2.4 0 0 1 396.70,272.90 Z" fill="#1b4b73" stroke="#1b4b73" stroke-width="0.8"/><circle cx="401.4" cy="275.4" r="2.4" fill="#fff" stroke="#1b4b73" stroke-width="0.8"/><path d="M399.00,275.60 A2.4,2.4 0 0 1 403.80,275.60 Z" fill="#1b4b73" stroke="#1b4b73" stroke-width="0.8"/><circle cx="408.4" cy="278.3" r="2.4" fill="#fff" stroke="#1b4b73" stroke-width="0.8"/><path d="M406.00,278.50 A2.4,2.4 0 0 1 410.80,278.50 Z" fill="#1b4b73" stroke="#1b4b73" stroke-width="0.8"/><circle cx="415.6" cy="280.1" r="2.4" fill="#fff" stroke="#1b4b73" stroke-width="0.8"/><path d="M413.20,280.30 A2.4,2.4 0 0 1 418.00,280.30 Z" fill="#1b4b73" stroke="#1b4b73" stroke-width="0.8"/><circle cx="422.8" cy="281.4" r="2.4" fill="#fff" stroke="#1b4b73" stroke-width="0.8"/><path d="M420.40,281.60 A2.4,2.4 0 0 1 425.20,281.60 Z" fill="#1b4b73" stroke="#1b4b73" stroke-width="0.8"/><circle cx="432.1" cy="284" r="2.4" fill="#fff" stroke="#1b4b73" stroke-width="0.8"/><path d="M429.70,284.20 A2.4,2.4 0 0 1 434.50,284.20 Z" fill="#1b4b73" stroke="#1b4b73" stroke-width="0.8"/><circle cx="440.8" cy="285.3" r="2.4" fill="#fff" stroke="#1b4b73" stroke-width="0.8"/><path d="M438.40,285.50 A2.4,2.4 0 0 1 443.20,285.50 Z" fill="#1b4b73" stroke="#1b4b73" stroke-width="0.8"/><circle cx="449.5" cy="286.7" r="2.4" fill="#fff" stroke="#1b4b73" stroke-width="0.8"/><path d="M447.10,286.90 A2.4,2.4 0 0 1 451.90,286.90 Z" fill="#1b4b73" stroke="#1b4b73" stroke-width="0.8"/><circle cx="458.9" cy="287.3" r="2.4" fill="#fff" stroke="#1b4b73" stroke-width="0.8"/><path d="M456.50,287.50 A2.4,2.4 0 0 1 461.30,287.50 Z" fill="#1b4b73" stroke="#1b4b73" stroke-width="0.8"/><circle cx="459.8" cy="274.2" r="2.4" fill="#fff" stroke="#1b4b73" stroke-width="0.8"/><path d="M457.40,274.40 A2.4,2.4 0 0 1 462.20,274.40 Z" fill="#1b4b73" stroke="#1b4b73" stroke-width="0.8"/><circle cx="461.8" cy="262.2" r="2.4" fill="#fff" stroke="#1b4b73" stroke-width="0.8"/><path d="M459.40,262.40 A2.4,2.4 0 0 1 464.20,262.40 Z" fill="#1b4b73" stroke="#1b4b73" stroke-width="0.8"/><circle cx="464.7" cy="251.4" r="2.4" fill="#fff" stroke="#1b4b73" stroke-width="0.8"/><path d="M462.30,251.60 A2.4,2.4 0 0 1 467.10,251.60 Z" fill="#1b4b73" stroke="#1b4b73" stroke-width="0.8"/><circle cx="469.7" cy="237" r="2.4" fill="#fff" stroke="#1b4b73" stroke-width="0.8"/><path d="M467.30,237.20 A2.4,2.4 0 0 1 472.10,237.20 Z" fill="#1b4b73" stroke="#1b4b73" stroke-width="0.8"/><circle cx="474.4" cy="225.7" r="2.4" fill="#fff" stroke="#1b4b73" stroke-width="0.8"/><path d="M472.00,225.90 A2.4,2.4 0 0 1 476.80,225.90 Z" fill="#1b4b73" stroke="#1b4b73" stroke-width="0.8"/><circle cx="479" cy="216" r="2.4" fill="#fff" stroke="#1b4b73" stroke-width="0.8"/><path d="M476.60,216.20 A2.4,2.4 0 0 1 481.40,216.20 Z" fill="#1b4b73" stroke="#1b4b73" stroke-width="0.8"/><circle cx="484.5" cy="207.7" r="2.4" fill="#fff" stroke="#1b4b73" stroke-width="0.8"/><path d="M482.10,207.90 A2.4,2.4 0 0 1 486.90,207.90 Z" fill="#1b4b73" stroke="#1b4b73" stroke-width="0.8"/><circle cx="491.5" cy="200.9" r="2.4" fill="#fff" stroke="#1b4b73" stroke-width="0.8"/><path d="M489.10,201.10 A2.4,2.4 0 0 1 493.90,201.10 Z" fill="#1b4b73" stroke="#1b4b73" stroke-width="0.8"/><circle cx="492.3" cy="211.2" r="2.4" fill="#fff" stroke="#1b4b73" stroke-width="0.8"/><path d="M489.90,211.40 A2.4,2.4 0 0 1 494.70,211.40 Z" fill="#1b4b73" stroke="#1b4b73" stroke-width="0.8"/><circle cx="493.5" cy="223.8" r="2.4" fill="#fff" stroke="#1b4b73" stroke-width="0.8"/><path d="M491.10,224.00 A2.4,2.4 0 0 1 495.90,224.00 Z" fill="#1b4b73" stroke="#1b4b73" stroke-width="0.8"/><circle cx="496.2" cy="235.8" r="2.4" fill="#fff" stroke="#1b4b73" stroke-width="0.8"/><path d="M493.80,236.00 A2.4,2.4 0 0 1 498.60,236.00 Z" fill="#1b4b73" stroke="#1b4b73" stroke-width="0.8"/><circle cx="502.2" cy="246.7" r="2.4" fill="#fff" stroke="#1b4b73" stroke-width="0.8"/><path d="M499.80,246.90 A2.4,2.4 0 0 1 504.60,246.90 Z" fill="#1b4b73" stroke="#1b4b73" stroke-width="0.8"/><circle cx="509.4" cy="253.5" r="2.4" fill="#fff" stroke="#1b4b73" stroke-width="0.8"/><path d="M507.00,253.70 A2.4,2.4 0 0 1 511.80,253.70 Z" fill="#1b4b73" stroke="#1b4b73" stroke-width="0.8"/><circle cx="516.6" cy="258.1" r="2.4" fill="#fff" stroke="#1b4b73" stroke-width="0.8"/><path d="M514.20,258.30 A2.4,2.4 0 0 1 519.00,258.30 Z" fill="#1b4b73" stroke="#1b4b73" stroke-width="0.8"/><circle cx="523.8" cy="259.7" r="2.4" fill="#fff" stroke="#1b4b73" stroke-width="0.8"/><path d="M521.40,259.90 A2.4,2.4 0 0 1 526.20,259.90 Z" fill="#1b4b73" stroke="#1b4b73" stroke-width="0.8"/><circle cx="530.9" cy="259.7" r="2.4" fill="#fff" stroke="#1b4b73" stroke-width="0.8"/><path d="M528.50,259.90 A2.4,2.4 0 0 1 533.30,259.90 Z" fill="#1b4b73" stroke="#1b4b73" stroke-width="0.8"/><circle cx="538.3" cy="260.3" r="2.4" fill="#fff" stroke="#1b4b73" stroke-width="0.8"/><path d="M535.90,260.50 A2.4,2.4 0 0 1 540.70,260.50 Z" fill="#1b4b73" stroke="#1b4b73" stroke-width="0.8"/><circle cx="545.7" cy="261.1" r="2.4" fill="#fff" stroke="#1b4b73" stroke-width="0.8"/><path d="M543.30,261.30 A2.4,2.4 0 0 1 548.10,261.30 Z" fill="#1b4b73" stroke="#1b4b73" stroke-width="0.8"/><circle cx="552.7" cy="261.3" r="2.4" fill="#fff" stroke="#1b4b73" stroke-width="0.8"/><path d="M550.30,261.50 A2.4,2.4 0 0 1 555.10,261.50 Z" fill="#1b4b73" stroke="#1b4b73" stroke-width="0.8"/><circle cx="559.8" cy="262.2" r="2.4" fill="#fff" stroke="#1b4b73" stroke-width="0.8"/><path d="M557.40,262.40 A2.4,2.4 0 0 1 562.20,262.40 Z" fill="#1b4b73" stroke="#1b4b73" stroke-width="0.8"/><circle cx="567.2" cy="263.2" r="2.4" fill="#fff" stroke="#1b4b73" stroke-width="0.8"/><path d="M564.80,263.40 A2.4,2.4 0 0 1 569.60,263.40 Z" fill="#1b4b73" stroke="#1b4b73" stroke-width="0.8"/><circle cx="574.4" cy="266.5" r="2.4" fill="#fff" stroke="#1b4b73" stroke-width="0.8"/><path d="M572.00,266.70 A2.4,2.4 0 0 1 576.80,266.70 Z" fill="#1b4b73" stroke="#1b4b73" stroke-width="0.8"/><circle cx="581.6" cy="269.4" r="2.4" fill="#fff" stroke="#1b4b73" stroke-width="0.8"/><path d="M579.20,269.60 A2.4,2.4 0 0 1 584.00,269.60 Z" fill="#1b4b73" stroke="#1b4b73" stroke-width="0.8"/><circle cx="589" cy="272.9" r="2.4" fill="#fff" stroke="#1b4b73" stroke-width="0.8"/><path d="M586.60,273.10 A2.4,2.4 0 0 1 591.40,273.10 Z" fill="#1b4b73" stroke="#1b4b73" stroke-width="0.8"/><circle cx="596.1" cy="275.2" r="2.4" fill="#fff" stroke="#1b4b73" stroke-width="0.8"/><path d="M593.70,275.40 A2.4,2.4 0 0 1 598.50,275.40 Z" fill="#1b4b73" stroke="#1b4b73" stroke-width="0.8"/><circle cx="603.4" cy="277.7" r="2.4" fill="#fff" stroke="#1b4b73" stroke-width="0.8"/><path d="M601.00,277.90 A2.4,2.4 0 0 1 605.80,277.90 Z" fill="#1b4b73" stroke="#1b4b73" stroke-width="0.8"/><circle cx="610.6" cy="279.6" r="2.4" fill="#fff" stroke="#1b4b73" stroke-width="0.8"/><path d="M608.20,279.80 A2.4,2.4 0 0 1 613.00,279.80 Z" fill="#1b4b73" stroke="#1b4b73" stroke-width="0.8"/><circle cx="617.6" cy="281.6" r="2.4" fill="#fff" stroke="#1b4b73" stroke-width="0.8"/><path d="M615.20,281.80 A2.4,2.4 0 0 1 620.00,281.80 Z" fill="#1b4b73" stroke="#1b4b73" stroke-width="0.8"/><circle cx="624.9" cy="283" r="2.4" fill="#fff" stroke="#1b4b73" stroke-width="0.8"/><path d="M622.50,283.20 A2.4,2.4 0 0 1 627.30,283.20 Z" fill="#1b4b73" stroke="#1b4b73" stroke-width="0.8"/><circle cx="632.1" cy="284.2" r="2.4" fill="#fff" stroke="#1b4b73" stroke-width="0.8"/><path d="M629.70,284.40 A2.4,2.4 0 0 1 634.50,284.40 Z" fill="#1b4b73" stroke="#1b4b73" stroke-width="0.8"/><circle cx="639.5" cy="285.6" r="2.4" fill="#fff" stroke="#1b4b73" stroke-width="0.8"/><path d="M637.10,285.80 A2.4,2.4 0 0 1 641.90,285.80 Z" fill="#1b4b73" stroke="#1b4b73" stroke-width="0.8"/><circle cx="646.5" cy="286.5" r="2.4" fill="#fff" stroke="#1b4b73" stroke-width="0.8"/><path d="M644.10,286.70 A2.4,2.4 0 0 1 648.90,286.70 Z" fill="#1b4b73" stroke="#1b4b73" stroke-width="0.8"/><circle cx="653.7" cy="287.5" r="2.4" fill="#fff" stroke="#1b4b73" stroke-width="0.8"/><path d="M651.30,287.70 A2.4,2.4 0 0 1 656.10,287.70 Z" fill="#1b4b73" stroke="#1b4b73" stroke-width="0.8"/><circle cx="91.9" cy="281.4" r="3.2" fill="#fff" stroke="#1b4b73" stroke-width="1.0"/><path d="M88.70,281.60 A3.2,3.2 0 0 1 95.10,281.60 Z" fill="#1b4b73" stroke="#1b4b73" stroke-width="1.0"/><circle cx="91.9" cy="292.4" r="2.8" fill="#fff" stroke="#f06a6a" stroke-width="1.3"/><text x="105.4" y="284.5" font-family="Liberation Sans, sans-serif" font-size="9.3" fill="#111">Composite PCM</text><text x="105.4" y="295.9" font-family="Liberation Sans, sans-serif" font-size="9.3" fill="#111">Applying magnetic field</text><line x1="279.8" y1="291" x2="300.6" y2="291" stroke="#3a9ab8" stroke-width="2.7"/><text x="303.9" y="294.5" font-family="Liberation Sans, sans-serif" font-size="9.3" fill="#111">Cooling plate temperature</text><rect x="48.3" y="190.5" width="627.4" height="120.7" fill="none" stroke="#1a1a1a" stroke-width="1.3"/><line x1="48.3" y1="311.2" x2="53.3" y2="311.2" stroke="#1a1a1a" stroke-width="1.1"/><text x="41.8" y="314.4" font-family="Liberation Sans, sans-serif" font-size="9.4" fill="#111" text-anchor="end">0</text><line x1="48.3" y1="296.1" x2="50.9" y2="296.1" stroke="#1a1a1a" stroke-width="1.1"/><line x1="48.3" y1="281.0" x2="53.3" y2="281.0" stroke="#1a1a1a" stroke-width="1.1"/><text x="41.8" y="284.2" font-family="Liberation Sans, sans-serif" font-size="9.4" fill="#111" text-anchor="end">20</text><line x1="48.3" y1="265.9" x2="50.9" y2="265.9" stroke="#1a1a1a" stroke-width="1.1"/><line x1="48.3" y1="250.8" x2="53.3" y2="250.8" stroke="#1a1a1a" stroke-width="1.1"/><text x="41.8" y="254.0" font-family="Liberation Sans, sans-serif" font-size="9.4" fill="#111" text-anchor="end">40</text><line x1="48.3" y1="235.8" x2="50.9" y2="235.8" stroke="#1a1a1a" stroke-width="1.1"/><line x1="48.3" y1="220.7" x2="53.3" y2="220.7" stroke="#1a1a1a" stroke-width="1.1"/><text x="41.8" y="223.9" font-family="Liberation Sans, sans-serif" font-size="9.4" fill="#111" text-anchor="end">60</text><line x1="48.3" y1="205.6" x2="50.9" y2="205.6" stroke="#1a1a1a" stroke-width="1.1"/><line x1="48.3" y1="190.5" x2="53.3" y2="190.5" stroke="#1a1a1a" stroke-width="1.1"/><text x="41.8" y="193.7" font-family="Liberation Sans, sans-serif" font-size="9.4" fill="#111" text-anchor="end">80</text><line x1="69.6" y1="311.2" x2="69.6" y2="306.2" stroke="#1a1a1a" stroke-width="1.1"/><text x="69.6" y="326.9" font-family="Liberation Sans, sans-serif" font-size="9.2" fill="#111" text-anchor="middle">0</text><line x1="102.1" y1="311.2" x2="102.1" y2="308.59999999999997" stroke="#1a1a1a" stroke-width="1.1"/><line x1="134.6" y1="311.2" x2="134.6" y2="306.2" stroke="#1a1a1a" stroke-width="1.1"/><text x="134.6" y="326.9" font-family="Liberation Sans, sans-serif" font-size="9.2" fill="#111" text-anchor="middle">30</text><line x1="167.1" y1="311.2" x2="167.1" y2="308.59999999999997" stroke="#1a1a1a" stroke-width="1.1"/><line x1="199.6" y1="311.2" x2="199.6" y2="306.2" stroke="#1a1a1a" stroke-width="1.1"/><text x="199.6" y="326.9" font-family="Liberation Sans, sans-serif" font-size="9.2" fill="#111" text-anchor="middle">60</text><line x1="232.1" y1="311.2" x2="232.1" y2="308.59999999999997" stroke="#1a1a1a" stroke-width="1.1"/><line x1="264.6" y1="311.2" x2="264.6" y2="306.2" stroke="#1a1a1a" stroke-width="1.1"/><text x="264.6" y="326.9" font-family="Liberation Sans, sans-serif" font-size="9.2" fill="#111" text-anchor="middle">90</text><line x1="297.1" y1="311.2" x2="297.1" y2="308.59999999999997" stroke="#1a1a1a" stroke-width="1.1"/><line x1="329.6" y1="311.2" x2="329.6" y2="306.2" stroke="#1a1a1a" stroke-width="1.1"/><text x="329.6" y="326.9" font-family="Liberation Sans, sans-serif" font-size="9.2" fill="#111" text-anchor="middle">120</text><line x1="362.1" y1="311.2" x2="362.1" y2="308.59999999999997" stroke="#1a1a1a" stroke-width="1.1"/><line x1="394.6" y1="311.2" x2="394.6" y2="306.2" stroke="#1a1a1a" stroke-width="1.1"/><text x="394.6" y="326.9" font-family="Liberation Sans, sans-serif" font-size="9.2" fill="#111" text-anchor="middle">150</text><line x1="427.1" y1="311.2" x2="427.1" y2="308.59999999999997" stroke="#1a1a1a" stroke-width="1.1"/><line x1="459.6" y1="311.2" x2="459.6" y2="306.2" stroke="#1a1a1a" stroke-width="1.1"/><text x="459.6" y="326.9" font-family="Liberation Sans, sans-serif" font-size="9.2" fill="#111" text-anchor="middle">180</text><line x1="492.1" y1="311.2" x2="492.1" y2="308.59999999999997" stroke="#1a1a1a" stroke-width="1.1"/><line x1="524.6" y1="311.2" x2="524.6" y2="306.2" stroke="#1a1a1a" stroke-width="1.1"/><text x="524.6" y="326.9" font-family="Liberation Sans, sans-serif" font-size="9.2" fill="#111" text-anchor="middle">210</text><line x1="557.1" y1="311.2" x2="557.1" y2="308.59999999999997" stroke="#1a1a1a" stroke-width="1.1"/><line x1="589.6" y1="311.2" x2="589.6" y2="306.2" stroke="#1a1a1a" stroke-width="1.1"/><text x="589.6" y="326.9" font-family="Liberation Sans, sans-serif" font-size="9.2" fill="#111" text-anchor="middle">240</text><line x1="622.1" y1="311.2" x2="622.1" y2="308.59999999999997" stroke="#1a1a1a" stroke-width="1.1"/><line x1="654.6" y1="311.2" x2="654.6" y2="306.2" stroke="#1a1a1a" stroke-width="1.1"/><text x="654.6" y="326.9" font-family="Liberation Sans, sans-serif" font-size="9.2" fill="#111" text-anchor="middle">270</text><text x="362" y="337.3" font-family="Liberation Sans, sans-serif" font-size="9.6" fill="#111" text-anchor="middle">Time (min)</text><text transform="translate(26.6,250.4) rotate(-90)" font-family="Liberation Sans, sans-serif" font-size="10.8" fill="#111" text-anchor="middle">Temperature (°C)</text><text x="0" y="369.3" font-family="Liberation Sans, sans-serif" font-weight="bold" font-size="16.5">c</text><rect x="81.6" y="359.1" width="19.7" height="112.4" fill="#a9d4df"/><text x="92.8" y="356.6" font-family="Liberation Sans, sans-serif" font-size="10.3" fill="#4aa6c4" text-anchor="middle">Solid state</text><path d="M61.5,358.1 L61.5,471.5 L355.8,471.5" fill="none" stroke="#1a1a1a" stroke-width="1.3"/><line x1="61.5" y1="461.1" x2="65.3" y2="461.1" stroke="#1a1a1a" stroke-width="1"/><text x="56.6" y="464.3" font-family="Liberation Sans, sans-serif" font-size="9.4" fill="#111" text-anchor="end">600</text><line x1="61.5" y1="450.8" x2="63.7" y2="450.8" stroke="#1a1a1a" stroke-width="1"/><line x1="61.5" y1="440.5" x2="65.3" y2="440.5" stroke="#1a1a1a" stroke-width="1"/><text x="56.6" y="443.7" font-family="Liberation Sans, sans-serif" font-size="9.4" fill="#111" text-anchor="end">1200</text><line x1="61.5" y1="430.2" x2="63.7" y2="430.2" stroke="#1a1a1a" stroke-width="1"/><line x1="61.5" y1="419.9" x2="65.3" y2="419.9" stroke="#1a1a1a" stroke-width="1"/><text x="56.6" y="423.1" font-family="Liberation Sans, sans-serif" font-size="9.4" fill="#111" text-anchor="end">1800</text><line x1="61.5" y1="409.6" x2="63.7" y2="409.6" stroke="#1a1a1a" stroke-width="1"/><line x1="61.5" y1="399.3" x2="65.3" y2="399.3" stroke="#1a1a1a" stroke-width="1"/><text x="56.6" y="402.5" font-family="Liberation Sans, sans-serif" font-size="9.4" fill="#111" text-anchor="end">2400</text><line x1="61.5" y1="389.0" x2="63.7" y2="389.0" stroke="#1a1a1a" stroke-width="1"/><line x1="61.5" y1="378.7" x2="65.3" y2="378.7" stroke="#1a1a1a" stroke-width="1"/><text x="56.6" y="381.9" font-family="Liberation Sans, sans-serif" font-size="9.4" fill="#111" text-anchor="end">3000</text><line x1="61.5" y1="368.4" x2="63.7" y2="368.4" stroke="#1a1a1a" stroke-width="1"/><line x1="61.5" y1="358.1" x2="65.3" y2="358.1" stroke="#1a1a1a" stroke-width="1"/><text x="56.6" y="361.3" font-family="Liberation Sans, sans-serif" font-size="9.4" fill="#111" text-anchor="end">3600</text><line x1="82.1" y1="471.5" x2="82.1" y2="467.7" stroke="#1a1a1a" stroke-width="1"/><text x="82.1" y="484.3" font-family="Liberation Sans, sans-serif" font-size="9.7" fill="#111" text-anchor="middle">0</text><line x1="103.2" y1="471.5" x2="103.2" y2="469.3" stroke="#1a1a1a" stroke-width="1"/><line x1="124.2" y1="471.5" x2="124.2" y2="467.7" stroke="#1a1a1a" stroke-width="1"/><text x="124.2" y="484.3" font-family="Liberation Sans, sans-serif" font-size="9.7" fill="#111" text-anchor="middle">15</text><line x1="145.3" y1="471.5" x2="145.3" y2="469.3" stroke="#1a1a1a" stroke-width="1"/><line x1="166.3" y1="471.5" x2="166.3" y2="467.7" stroke="#1a1a1a" stroke-width="1"/><text x="166.3" y="484.3" font-family="Liberation Sans, sans-serif" font-size="9.7" fill="#111" text-anchor="middle">30</text><line x1="187.4" y1="471.5" x2="187.4" y2="469.3" stroke="#1a1a1a" stroke-width="1"/><line x1="208.4" y1="471.5" x2="208.4" y2="467.7" stroke="#1a1a1a" stroke-width="1"/><text x="208.4" y="484.3" font-family="Liberation Sans, sans-serif" font-size="9.7" fill="#111" text-anchor="middle">45</text><line x1="229.5" y1="471.5" x2="229.5" y2="469.3" stroke="#1a1a1a" stroke-width="1"/><line x1="250.5" y1="471.5" x2="250.5" y2="467.7" stroke="#1a1a1a" stroke-width="1"/><text x="250.5" y="484.3" font-family="Liberation Sans, sans-serif" font-size="9.7" fill="#111" text-anchor="middle">60</text><line x1="271.6" y1="471.5" x2="271.6" y2="469.3" stroke="#1a1a1a" stroke-width="1"/><line x1="292.6" y1="471.5" x2="292.6" y2="467.7" stroke="#1a1a1a" stroke-width="1"/><text x="292.6" y="484.3" font-family="Liberation Sans, sans-serif" font-size="9.7" fill="#111" text-anchor="middle">75</text><line x1="313.7" y1="471.5" x2="313.7" y2="469.3" stroke="#1a1a1a" stroke-width="1"/><line x1="334.7" y1="471.5" x2="334.7" y2="467.7" stroke="#1a1a1a" stroke-width="1"/><text x="334.7" y="484.3" font-family="Liberation Sans, sans-serif" font-size="9.7" fill="#111" text-anchor="middle">90</text><line x1="355.8" y1="471.5" x2="355.8" y2="469.3" stroke="#1a1a1a" stroke-width="1"/><path d="M61.5,485.1 L61.5,563.8 L355.8,563.8" fill="none" stroke="#1a1a1a" stroke-width="1.3"/><line x1="61.5" y1="563.8" x2="65.3" y2="563.8" stroke="#1a1a1a" stroke-width="1"/><text x="56.6" y="567.0" font-family="Liberation Sans, sans-serif" font-size="9.4" fill="#111" text-anchor="end">0</text><line x1="61.5" y1="554.0" x2="63.7" y2="554.0" stroke="#1a1a1a" stroke-width="1"/><line x1="61.5" y1="544.1" x2="65.3" y2="544.1" stroke="#1a1a1a" stroke-width="1"/><text x="56.6" y="547.3" font-family="Liberation Sans, sans-serif" font-size="9.4" fill="#111" text-anchor="end">600</text><line x1="61.5" y1="534.3" x2="63.7" y2="534.3" stroke="#1a1a1a" stroke-width="1"/><line x1="61.5" y1="524.5" x2="65.3" y2="524.5" stroke="#1a1a1a" stroke-width="1"/><text x="56.6" y="527.7" font-family="Liberation Sans, sans-serif" font-size="9.4" fill="#111" text-anchor="end">1200</text><line x1="61.5" y1="514.6" x2="63.7" y2="514.6" stroke="#1a1a1a" stroke-width="1"/><line x1="61.5" y1="504.8" x2="65.3" y2="504.8" stroke="#1a1a1a" stroke-width="1"/><text x="56.6" y="508.0" font-family="Liberation Sans, sans-serif" font-size="9.4" fill="#111" text-anchor="end">1800</text><line x1="61.5" y1="494.9" x2="63.7" y2="494.9" stroke="#1a1a1a" stroke-width="1"/><line x1="61.5" y1="485.1" x2="65.3" y2="485.1" stroke="#1a1a1a" stroke-width="1"/><text x="56.6" y="488.3" font-family="Liberation Sans, sans-serif" font-size="9.4" fill="#111" text-anchor="end">2400</text><line x1="82.1" y1="563.8" x2="82.1" y2="560.0" stroke="#1a1a1a" stroke-width="1"/><text x="82.1" y="576.4" font-family="Liberation Sans, sans-serif" font-size="9.7" fill="#111" text-anchor="middle">0</text><line x1="103.2" y1="563.8" x2="103.2" y2="561.5999999999999" stroke="#1a1a1a" stroke-width="1"/><line x1="124.2" y1="563.8" x2="124.2" y2="560.0" stroke="#1a1a1a" stroke-width="1"/><text x="124.2" y="576.4" font-family="Liberation Sans, sans-serif" font-size="9.7" fill="#111" text-anchor="middle">15</text><line x1="145.3" y1="563.8" x2="145.3" y2="561.5999999999999" stroke="#1a1a1a" stroke-width="1"/><line x1="166.3" y1="563.8" x2="166.3" y2="560.0" stroke="#1a1a1a" stroke-width="1"/><text x="166.3" y="576.4" font-family="Liberation Sans, sans-serif" font-size="9.7" fill="#111" text-anchor="middle">30</text><line x1="187.4" y1="563.8" x2="187.4" y2="561.5999999999999" stroke="#1a1a1a" stroke-width="1"/><line x1="208.4" y1="563.8" x2="208.4" y2="560.0" stroke="#1a1a1a" stroke-width="1"/><text x="208.4" y="576.4" font-family="Liberation Sans, sans-serif" font-size="9.7" fill="#111" text-anchor="middle">45</text><line x1="229.5" y1="563.8" x2="229.5" y2="561.5999999999999" stroke="#1a1a1a" stroke-width="1"/><line x1="250.5" y1="563.8" x2="250.5" y2="560.0" stroke="#1a1a1a" stroke-width="1"/><text x="250.5" y="576.4" font-family="Liberation Sans, sans-serif" font-size="9.7" fill="#111" text-anchor="middle">60</text><line x1="271.6" y1="563.8" x2="271.6" y2="561.5999999999999" stroke="#1a1a1a" stroke-width="1"/><line x1="292.6" y1="563.8" x2="292.6" y2="560.0" stroke="#1a1a1a" stroke-width="1"/><text x="292.6" y="576.4" font-family="Liberation Sans, sans-serif" font-size="9.7" fill="#111" text-anchor="middle">75</text><line x1="313.7" y1="563.8" x2="313.7" y2="561.5999999999999" stroke="#1a1a1a" stroke-width="1"/><line x1="334.7" y1="563.8" x2="334.7" y2="560.0" stroke="#1a1a1a" stroke-width="1"/><text x="334.7" y="576.4" font-family="Liberation Sans, sans-serif" font-size="9.7" fill="#111" text-anchor="middle">90</text><line x1="355.8" y1="563.8" x2="355.8" y2="561.5999999999999" stroke="#1a1a1a" stroke-width="1"/><text x="200.4" y="590" font-family="Liberation Sans, sans-serif" font-size="11.1" fill="#111" text-anchor="middle">Time (min)</text><text transform="translate(27.8,466) rotate(-90)" font-family="Liberation Sans, sans-serif" font-size="11.45" fill="#111" text-anchor="middle">Temperature gradient (°C/m)</text><text x="268.5" y="410.1" font-family="Liberation Sans, sans-serif" font-weight="bold" font-size="11.2" fill="#111">5 mm ~ 10 mm</text><text x="269" y="514.8" font-family="Liberation Sans, sans-serif" font-weight="bold" font-size="11.2" fill="#111">10 mm ~ 15 mm</text><path d="M86,414.20 L89.00,417.2 L86,420.20 L83.00,417.2 Z" fill="#fff" stroke="#f06a6a" stroke-width="1.1"/><path d="M88.1,409.00 L91.10,412 L88.1,415.00 L85.10,412 Z" fill="#fff" stroke="#f06a6a" stroke-width="1.1"/><path d="M90.3,404.70 L93.30,407.7 L90.3,410.70 L87.30,407.7 Z" fill="#fff" stroke="#f06a6a" stroke-width="1.1"/><path d="M93.7,401.70 L96.70,404.7 L93.7,407.70 L90.70,404.7 Z" fill="#fff" stroke="#f06a6a" stroke-width="1.1"/><path d="M98.8,399.60 L101.80,402.6 L98.8,405.60 L95.80,402.6 Z" fill="#fff" stroke="#f06a6a" stroke-width="1.1"/><path d="M105.2,399.80 L108.20,402.8 L105.2,405.80 L102.20,402.8 Z" fill="#fff" stroke="#f06a6a" stroke-width="1.1"/><path d="M110.8,402.20 L113.80,405.2 L110.8,408.20 L107.80,405.2 Z" fill="#fff" stroke="#f06a6a" stroke-width="1.1"/><path d="M116.2,404.70 L119.20,407.7 L116.2,410.70 L113.20,407.7 Z" fill="#fff" stroke="#f06a6a" stroke-width="1.1"/><path d="M121,408.00 L124.00,411 L121,414.00 L118.00,411 Z" fill="#fff" stroke="#f06a6a" stroke-width="1.1"/><path d="M126.1,411.20 L129.10,414.2 L126.1,417.20 L123.10,414.2 Z" fill="#fff" stroke="#f06a6a" stroke-width="1.1"/><path d="M131.5,416.00 L134.50,419 L131.5,422.00 L128.50,419 Z" fill="#fff" stroke="#f06a6a" stroke-width="1.1"/><path d="M136.1,423.40 L139.10,426.4 L136.1,429.40 L133.10,426.4 Z" fill="#fff" stroke="#f06a6a" stroke-width="1.1"/><path d="M140.5,429.20 L143.50,432.2 L140.5,435.20 L137.50,432.2 Z" fill="#fff" stroke="#f06a6a" stroke-width="1.1"/><path d="M147.5,433.60 L150.50,436.6 L147.5,439.60 L144.50,436.6 Z" fill="#fff" stroke="#f06a6a" stroke-width="1.1"/><path d="M159.3,435.00 L162.30,438 L159.3,441.00 L156.30,438 Z" fill="#fff" stroke="#f06a6a" stroke-width="1.1"/><path d="M170.8,436.60 L173.80,439.6 L170.8,442.60 L167.80,439.6 Z" fill="#fff" stroke="#f06a6a" stroke-width="1.1"/><path d="M182.6,437.40 L185.60,440.4 L182.6,443.40 L179.60,440.4 Z" fill="#fff" stroke="#f06a6a" stroke-width="1.1"/><path d="M194.2,438.10 L197.20,441.1 L194.2,444.10 L191.20,441.1 Z" fill="#fff" stroke="#f06a6a" stroke-width="1.1"/><path d="M203.6,439.80 L206.60,442.8 L203.6,445.80 L200.60,442.8 Z" fill="#fff" stroke="#f06a6a" stroke-width="1.1"/><path d="M212.8,441.10 L215.80,444.1 L212.8,447.10 L209.80,444.1 Z" fill="#fff" stroke="#f06a6a" stroke-width="1.1"/><path d="M222.2,441.80 L225.20,444.8 L222.2,447.80 L219.20,444.8 Z" fill="#fff" stroke="#f06a6a" stroke-width="1.1"/><path d="M231.7,443.60 L234.70,446.6 L231.7,449.60 L228.70,446.6 Z" fill="#fff" stroke="#f06a6a" stroke-width="1.1"/><path d="M241.1,446.30 L244.10,449.3 L241.1,452.30 L238.10,449.3 Z" fill="#fff" stroke="#f06a6a" stroke-width="1.1"/><path d="M248.3,448.50 L251.30,451.5 L248.3,454.50 L245.30,451.5 Z" fill="#fff" stroke="#f06a6a" stroke-width="1.1"/><path d="M255.2,447.30 L258.20,450.3 L255.2,453.30 L252.20,450.3 Z" fill="#fff" stroke="#f06a6a" stroke-width="1.1"/><path d="M262.7,449.80 L265.70,452.8 L262.7,455.80 L259.70,452.8 Z" fill="#fff" stroke="#f06a6a" stroke-width="1.1"/><path d="M274.4,453.00 L277.40,456 L274.4,459.00 L271.40,456 Z" fill="#fff" stroke="#f06a6a" stroke-width="1.1"/><path d="M281.8,455.50 L284.80,458.5 L281.8,461.50 L278.80,458.5 Z" fill="#fff" stroke="#f06a6a" stroke-width="1.1"/><path d="M290.5,458.00 L293.50,461 L290.5,464.00 L287.50,461 Z" fill="#fff" stroke="#f06a6a" stroke-width="1.1"/><path d="M297.2,460.40 L300.20,463.4 L297.2,466.40 L294.20,463.4 Z" fill="#fff" stroke="#f06a6a" stroke-width="1.1"/><path d="M308.4,461.20 L311.40,464.2 L308.4,467.20 L305.40,464.2 Z" fill="#fff" stroke="#f06a6a" stroke-width="1.1"/><path d="M320.3,462.20 L323.30,465.2 L320.3,468.20 L317.30,465.2 Z" fill="#fff" stroke="#f06a6a" stroke-width="1.1"/><path d="M334.7,463.00 L337.70,466 L334.7,469.00 L331.70,466 Z" fill="#fff" stroke="#f06a6a" stroke-width="1.1"/><path d="M86.4,387.60 L89.70,390.9 L86.4,394.20 L83.10,390.9 Z" fill="#fff" stroke="#1b4b73" stroke-width="0.9"/><path d="M86.4,387.30 L90.00,391.20 L82.80,391.20 Z" fill="#1b4b73"/><path d="M88.9,381.70 L92.20,385 L88.9,388.30 L85.60,385 Z" fill="#fff" stroke="#1b4b73" stroke-width="0.9"/><path d="M88.9,381.40 L92.50,385.30 L85.30,385.30 Z" fill="#1b4b73"/><path d="M93.7,376.60 L97.00,379.9 L93.7,383.20 L90.40,379.9 Z" fill="#fff" stroke="#1b4b73" stroke-width="0.9"/><path d="M93.7,376.30 L97.30,380.20 L90.10,380.20 Z" fill="#1b4b73"/><path d="M100.5,373.70 L103.80,377 L100.5,380.30 L97.20,377 Z" fill="#fff" stroke="#1b4b73" stroke-width="0.9"/><path d="M100.5,373.40 L104.10,377.30 L96.90,377.30 Z" fill="#1b4b73"/><path d="M107.8,372.70 L111.10,376 L107.8,379.30 L104.50,376 Z" fill="#fff" stroke="#1b4b73" stroke-width="0.9"/><path d="M107.8,372.40 L111.40,376.30 L104.20,376.30 Z" fill="#1b4b73"/><path d="M115.9,370.80 L119.20,374.1 L115.9,377.40 L112.60,374.1 Z" fill="#fff" stroke="#1b4b73" stroke-width="0.9"/><path d="M115.9,370.50 L119.50,374.40 L112.30,374.40 Z" fill="#1b4b73"/><path d="M123.9,372.70 L127.20,376 L123.9,379.30 L120.60,376 Z" fill="#fff" stroke="#1b4b73" stroke-width="0.9"/><path d="M123.9,372.40 L127.50,376.30 L120.30,376.30 Z" fill="#1b4b73"/><path d="M131.6,378.10 L134.90,381.4 L131.6,384.70 L128.30,381.4 Z" fill="#fff" stroke="#1b4b73" stroke-width="0.9"/><path d="M131.6,377.80 L135.20,381.70 L128.00,381.70 Z" fill="#1b4b73"/><path d="M136.1,389.10 L139.40,392.4 L136.1,395.70 L132.80,392.4 Z" fill="#fff" stroke="#1b4b73" stroke-width="0.9"/><path d="M136.1,388.80 L139.70,392.70 L132.50,392.70 Z" fill="#1b4b73"/><path d="M137.4,399.50 L140.70,402.8 L137.4,406.10 L134.10,402.8 Z" fill="#fff" stroke="#1b4b73" stroke-width="0.9"/><path d="M137.4,399.20 L141.00,403.10 L133.80,403.10 Z" fill="#1b4b73"/><path d="M138.4,409.60 L141.70,412.9 L138.4,416.20 L135.10,412.9 Z" fill="#fff" stroke="#1b4b73" stroke-width="0.9"/><path d="M138.4,409.30 L142.00,413.20 L134.80,413.20 Z" fill="#1b4b73"/><path d="M141.9,416.60 L145.20,419.9 L141.9,423.20 L138.60,419.9 Z" fill="#fff" stroke="#1b4b73" stroke-width="0.9"/><path d="M141.9,416.30 L145.50,420.20 L138.30,420.20 Z" fill="#1b4b73"/><path d="M147.5,421.00 L150.80,424.3 L147.5,427.60 L144.20,424.3 Z" fill="#fff" stroke="#1b4b73" stroke-width="0.9"/><path d="M147.5,420.70 L151.10,424.60 L143.90,424.60 Z" fill="#1b4b73"/><path d="M156.8,424.00 L160.10,427.3 L156.8,430.60 L153.50,427.3 Z" fill="#fff" stroke="#1b4b73" stroke-width="0.9"/><path d="M156.8,423.70 L160.40,427.60 L153.20,427.60 Z" fill="#1b4b73"/><path d="M170.8,426.30 L174.10,429.6 L170.8,432.90 L167.50,429.6 Z" fill="#fff" stroke="#1b4b73" stroke-width="0.9"/><path d="M170.8,426.00 L174.40,429.90 L167.20,429.90 Z" fill="#1b4b73"/><path d="M186.1,430.60 L189.40,433.9 L186.1,437.20 L182.80,433.9 Z" fill="#fff" stroke="#1b4b73" stroke-width="0.9"/><path d="M186.1,430.30 L189.70,434.20 L182.50,434.20 Z" fill="#1b4b73"/><path d="M199.5,431.30 L202.80,434.6 L199.5,437.90 L196.20,434.6 Z" fill="#fff" stroke="#1b4b73" stroke-width="0.9"/><path d="M199.5,431.00 L203.10,434.90 L195.90,434.90 Z" fill="#1b4b73"/><path d="M212.3,435.80 L215.60,439.1 L212.3,442.40 L209.00,439.1 Z" fill="#fff" stroke="#1b4b73" stroke-width="0.9"/><path d="M212.3,435.50 L215.90,439.40 L208.70,439.40 Z" fill="#1b4b73"/><path d="M225.5,439.20 L228.80,442.5 L225.5,445.80 L222.20,442.5 Z" fill="#fff" stroke="#1b4b73" stroke-width="0.9"/><path d="M225.5,438.90 L229.10,442.80 L221.90,442.80 Z" fill="#1b4b73"/><path d="M237.2,442.00 L240.50,445.3 L237.2,448.60 L233.90,445.3 Z" fill="#fff" stroke="#1b4b73" stroke-width="0.9"/><path d="M237.2,441.70 L240.80,445.60 L233.60,445.60 Z" fill="#1b4b73"/><path d="M249,445.70 L252.30,449 L249,452.30 L245.70,449 Z" fill="#fff" stroke="#1b4b73" stroke-width="0.9"/><path d="M249,445.40 L252.60,449.30 L245.40,449.30 Z" fill="#1b4b73"/><path d="M258.2,448.20 L261.50,451.5 L258.2,454.80 L254.90,451.5 Z" fill="#fff" stroke="#1b4b73" stroke-width="0.9"/><path d="M258.2,447.90 L261.80,451.80 L254.60,451.80 Z" fill="#1b4b73"/><path d="M268.6,449.70 L271.90,453 L268.6,456.30 L265.30,453 Z" fill="#fff" stroke="#1b4b73" stroke-width="0.9"/><path d="M268.6,449.40 L272.20,453.30 L265.00,453.30 Z" fill="#1b4b73"/><path d="M278.1,454.40 L281.40,457.7 L278.1,461.00 L274.80,457.7 Z" fill="#fff" stroke="#1b4b73" stroke-width="0.9"/><path d="M278.1,454.10 L281.70,458.00 L274.50,458.00 Z" fill="#1b4b73"/><path d="M287.5,457.70 L290.80,461 L287.5,464.30 L284.20,461 Z" fill="#fff" stroke="#1b4b73" stroke-width="0.9"/><path d="M287.5,457.40 L291.10,461.30 L283.90,461.30 Z" fill="#1b4b73"/><path d="M297.2,461.40 L300.50,464.7 L297.2,468.00 L293.90,464.7 Z" fill="#fff" stroke="#1b4b73" stroke-width="0.9"/><path d="M297.2,461.10 L300.80,465.00 L293.60,465.00 Z" fill="#1b4b73"/><path d="M308.4,461.90 L311.70,465.2 L308.4,468.50 L305.10,465.2 Z" fill="#fff" stroke="#1b4b73" stroke-width="0.9"/><path d="M308.4,461.60 L312.00,465.50 L304.80,465.50 Z" fill="#1b4b73"/><path d="M320.3,462.70 L323.60,466 L320.3,469.30 L317.00,466 Z" fill="#fff" stroke="#1b4b73" stroke-width="0.9"/><path d="M320.3,462.40 L323.90,466.30 L316.70,466.30 Z" fill="#1b4b73"/><path d="M334.7,463.90 L338.00,467.2 L334.7,470.50 L331.40,467.2 Z" fill="#fff" stroke="#1b4b73" stroke-width="0.9"/><path d="M334.7,463.60 L338.30,467.50 L331.10,467.50 Z" fill="#1b4b73"/><circle cx="83.8" cy="553.6" r="2.4" fill="#fff" stroke="#f06a6a" stroke-width="1.1"/><circle cx="86.4" cy="543.1" r="2.4" fill="#fff" stroke="#f06a6a" stroke-width="1.1"/><circle cx="89.9" cy="537.5" r="2.4" fill="#fff" stroke="#f06a6a" stroke-width="1.1"/><circle cx="93.4" cy="532.6" r="2.4" fill="#fff" stroke="#f06a6a" stroke-width="1.1"/><circle cx="96.9" cy="528.2" r="2.4" fill="#fff" stroke="#f06a6a" stroke-width="1.1"/><circle cx="101.3" cy="523.8" r="2.4" fill="#fff" stroke="#f06a6a" stroke-width="1.1"/><circle cx="105.7" cy="520.6" r="2.4" fill="#fff" stroke="#f06a6a" stroke-width="1.1"/><circle cx="110" cy="517.1" r="2.4" fill="#fff" stroke="#f06a6a" stroke-width="1.1"/><circle cx="116.2" cy="512.8" r="2.4" fill="#fff" stroke="#f06a6a" stroke-width="1.1"/><circle cx="124.1" cy="509.4" r="2.4" fill="#fff" stroke="#f06a6a" stroke-width="1.1"/><circle cx="132.5" cy="507.2" r="2.4" fill="#fff" stroke="#f06a6a" stroke-width="1.1"/><circle cx="140.3" cy="507.7" r="2.4" fill="#fff" stroke="#f06a6a" stroke-width="1.1"/><circle cx="147.7" cy="509.4" r="2.4" fill="#fff" stroke="#f06a6a" stroke-width="1.1"/><circle cx="154.4" cy="513.3" r="2.4" fill="#fff" stroke="#f06a6a" stroke-width="1.1"/><circle cx="162.1" cy="517.1" r="2.4" fill="#fff" stroke="#f06a6a" stroke-width="1.1"/><circle cx="170.5" cy="521.2" r="2.4" fill="#fff" stroke="#f06a6a" stroke-width="1.1"/><circle cx="184.5" cy="522.9" r="2.4" fill="#fff" stroke="#f06a6a" stroke-width="1.1"/><circle cx="194.9" cy="525.4" r="2.4" fill="#fff" stroke="#f06a6a" stroke-width="1.1"/><circle cx="203.6" cy="525.4" r="2.4" fill="#fff" stroke="#f06a6a" stroke-width="1.1"/><circle cx="212.8" cy="524.9" r="2.4" fill="#fff" stroke="#f06a6a" stroke-width="1.1"/><circle cx="222.2" cy="524.9" r="2.4" fill="#fff" stroke="#f06a6a" stroke-width="1.1"/><circle cx="231.7" cy="525.4" r="2.4" fill="#fff" stroke="#f06a6a" stroke-width="1.1"/><circle cx="241.1" cy="525.6" r="2.4" fill="#fff" stroke="#f06a6a" stroke-width="1.1"/><circle cx="250.3" cy="526.8" r="2.4" fill="#fff" stroke="#f06a6a" stroke-width="1.1"/><circle cx="259.5" cy="528.1" r="2.4" fill="#fff" stroke="#f06a6a" stroke-width="1.1"/><circle cx="269.4" cy="528.6" r="2.4" fill="#fff" stroke="#f06a6a" stroke-width="1.1"/><circle cx="281.3" cy="530.6" r="2.4" fill="#fff" stroke="#f06a6a" stroke-width="1.1"/><circle cx="290" cy="531.1" r="2.4" fill="#fff" stroke="#f06a6a" stroke-width="1.1"/><circle cx="297.9" cy="533" r="2.4" fill="#fff" stroke="#f06a6a" stroke-width="1.1"/><circle cx="305.4" cy="536" r="2.4" fill="#fff" stroke="#f06a6a" stroke-width="1.1"/><circle cx="312.8" cy="539.3" r="2.4" fill="#fff" stroke="#f06a6a" stroke-width="1.1"/><circle cx="320.3" cy="539.7" r="2.4" fill="#fff" stroke="#f06a6a" stroke-width="1.1"/><circle cx="335.2" cy="541.7" r="2.4" fill="#fff" stroke="#f06a6a" stroke-width="1.1"/><circle cx="84.6" cy="551.8" r="2.5" fill="#fff" stroke="#1b4b73" stroke-width="0.8"/><path d="M82.10,552.00 A2.5,2.5 0 0 1 87.10,552.00 Z" fill="#1b4b73" stroke="#1b4b73" stroke-width="0.8"/><circle cx="87.3" cy="547.1" r="2.5" fill="#fff" stroke="#1b4b73" stroke-width="0.8"/><path d="M84.80,547.30 A2.5,2.5 0 0 1 89.80,547.30 Z" fill="#1b4b73" stroke="#1b4b73" stroke-width="0.8"/><circle cx="91.3" cy="541.3" r="2.5" fill="#fff" stroke="#1b4b73" stroke-width="0.8"/><path d="M88.80,541.50 A2.5,2.5 0 0 1 93.80,541.50 Z" fill="#1b4b73" stroke="#1b4b73" stroke-width="0.8"/><circle cx="96" cy="536.9" r="2.5" fill="#fff" stroke="#1b4b73" stroke-width="0.8"/><path d="M93.50,537.10 A2.5,2.5 0 0 1 98.50,537.10 Z" fill="#1b4b73" stroke="#1b4b73" stroke-width="0.8"/><circle cx="100.9" cy="532.2" r="2.5" fill="#fff" stroke="#1b4b73" stroke-width="0.8"/><path d="M98.40,532.40 A2.5,2.5 0 0 1 103.40,532.40 Z" fill="#1b4b73" stroke="#1b4b73" stroke-width="0.8"/><circle cx="105.7" cy="528.2" r="2.5" fill="#fff" stroke="#1b4b73" stroke-width="0.8"/><path d="M103.20,528.40 A2.5,2.5 0 0 1 108.20,528.40 Z" fill="#1b4b73" stroke="#1b4b73" stroke-width="0.8"/><circle cx="112.3" cy="523.3" r="2.5" fill="#fff" stroke="#1b4b73" stroke-width="0.8"/><path d="M109.80,523.50 A2.5,2.5 0 0 1 114.80,523.50 Z" fill="#1b4b73" stroke="#1b4b73" stroke-width="0.8"/><circle cx="119.7" cy="519.4" r="2.5" fill="#fff" stroke="#1b4b73" stroke-width="0.8"/><path d="M117.20,519.60 A2.5,2.5 0 0 1 122.20,519.60 Z" fill="#1b4b73" stroke="#1b4b73" stroke-width="0.8"/><circle cx="124.4" cy="514.7" r="2.5" fill="#fff" stroke="#1b4b73" stroke-width="0.8"/><path d="M121.90,514.90 A2.5,2.5 0 0 1 126.90,514.90 Z" fill="#1b4b73" stroke="#1b4b73" stroke-width="0.8"/><circle cx="133.3" cy="513.3" r="2.5" fill="#fff" stroke="#1b4b73" stroke-width="0.8"/><path d="M130.80,513.50 A2.5,2.5 0 0 1 135.80,513.50 Z" fill="#1b4b73" stroke="#1b4b73" stroke-width="0.8"/><circle cx="141.6" cy="514.2" r="2.5" fill="#fff" stroke="#1b4b73" stroke-width="0.8"/><path d="M139.10,514.40 A2.5,2.5 0 0 1 144.10,514.40 Z" fill="#1b4b73" stroke="#1b4b73" stroke-width="0.8"/><circle cx="147.4" cy="515.9" r="2.5" fill="#fff" stroke="#1b4b73" stroke-width="0.8"/><path d="M144.90,516.10 A2.5,2.5 0 0 1 149.90,516.10 Z" fill="#1b4b73" stroke="#1b4b73" stroke-width="0.8"/><circle cx="160.8" cy="519.4" r="2.5" fill="#fff" stroke="#1b4b73" stroke-width="0.8"/><path d="M158.30,519.60 A2.5,2.5 0 0 1 163.30,519.60 Z" fill="#1b4b73" stroke="#1b4b73" stroke-width="0.8"/><circle cx="174.9" cy="523.8" r="2.5" fill="#fff" stroke="#1b4b73" stroke-width="0.8"/><path d="M172.40,524.00 A2.5,2.5 0 0 1 177.40,524.00 Z" fill="#1b4b73" stroke="#1b4b73" stroke-width="0.8"/><circle cx="186.2" cy="526.6" r="2.5" fill="#fff" stroke="#1b4b73" stroke-width="0.8"/><path d="M183.70,526.80 A2.5,2.5 0 0 1 188.70,526.80 Z" fill="#1b4b73" stroke="#1b4b73" stroke-width="0.8"/><circle cx="199.9" cy="528.6" r="2.5" fill="#fff" stroke="#1b4b73" stroke-width="0.8"/><path d="M197.40,528.80 A2.5,2.5 0 0 1 202.40,528.80 Z" fill="#1b4b73" stroke="#1b4b73" stroke-width="0.8"/><circle cx="212.3" cy="527.8" r="2.5" fill="#fff" stroke="#1b4b73" stroke-width="0.8"/><path d="M209.80,528.00 A2.5,2.5 0 0 1 214.80,528.00 Z" fill="#1b4b73" stroke="#1b4b73" stroke-width="0.8"/><circle cx="225.5" cy="526.6" r="2.5" fill="#fff" stroke="#1b4b73" stroke-width="0.8"/><path d="M223.00,526.80 A2.5,2.5 0 0 1 228.00,526.80 Z" fill="#1b4b73" stroke="#1b4b73" stroke-width="0.8"/><circle cx="237.1" cy="527.8" r="2.5" fill="#fff" stroke="#1b4b73" stroke-width="0.8"/><path d="M234.60,528.00 A2.5,2.5 0 0 1 239.60,528.00 Z" fill="#1b4b73" stroke="#1b4b73" stroke-width="0.8"/><circle cx="249" cy="529.1" r="2.5" fill="#fff" stroke="#1b4b73" stroke-width="0.8"/><path d="M246.50,529.30 A2.5,2.5 0 0 1 251.50,529.30 Z" fill="#1b4b73" stroke="#1b4b73" stroke-width="0.8"/><circle cx="258.2" cy="529.8" r="2.5" fill="#fff" stroke="#1b4b73" stroke-width="0.8"/><path d="M255.70,530.00 A2.5,2.5 0 0 1 260.70,530.00 Z" fill="#1b4b73" stroke="#1b4b73" stroke-width="0.8"/><circle cx="268.6" cy="530.6" r="2.5" fill="#fff" stroke="#1b4b73" stroke-width="0.8"/><path d="M266.10,530.80 A2.5,2.5 0 0 1 271.10,530.80 Z" fill="#1b4b73" stroke="#1b4b73" stroke-width="0.8"/><circle cx="278.8" cy="531.8" r="2.5" fill="#fff" stroke="#1b4b73" stroke-width="0.8"/><path d="M276.30,532.00 A2.5,2.5 0 0 1 281.30,532.00 Z" fill="#1b4b73" stroke="#1b4b73" stroke-width="0.8"/><circle cx="287.5" cy="534.3" r="2.5" fill="#fff" stroke="#1b4b73" stroke-width="0.8"/><path d="M285.00,534.50 A2.5,2.5 0 0 1 290.00,534.50 Z" fill="#1b4b73" stroke="#1b4b73" stroke-width="0.8"/><circle cx="297.2" cy="535.3" r="2.5" fill="#fff" stroke="#1b4b73" stroke-width="0.8"/><path d="M294.70,535.50 A2.5,2.5 0 0 1 299.70,535.50 Z" fill="#1b4b73" stroke="#1b4b73" stroke-width="0.8"/><circle cx="308.4" cy="537.8" r="2.5" fill="#fff" stroke="#1b4b73" stroke-width="0.8"/><path d="M305.90,538.00 A2.5,2.5 0 0 1 310.90,538.00 Z" fill="#1b4b73" stroke="#1b4b73" stroke-width="0.8"/><circle cx="320.3" cy="539.3" r="2.5" fill="#fff" stroke="#1b4b73" stroke-width="0.8"/><path d="M317.80,539.50 A2.5,2.5 0 0 1 322.80,539.50 Z" fill="#1b4b73" stroke="#1b4b73" stroke-width="0.8"/><circle cx="334.7" cy="541.2" r="2.5" fill="#fff" stroke="#1b4b73" stroke-width="0.8"/><path d="M332.20,541.40 A2.5,2.5 0 0 1 337.20,541.40 Z" fill="#1b4b73" stroke="#1b4b73" stroke-width="0.8"/><text x="155.4" y="391.9" font-family="Liberation Sans, sans-serif" font-size="11.3" fill="#1f4d74">Composite PCM</text><line x1="154.5" y1="386.6" x2="143" y2="391" stroke="#1f4d74" stroke-width="0.8"/><path d="M140.2,392 L144.3,388.6 L145,392.2 Z" fill="#1f4d74"/><text x="108.2" y="465.1" font-family="Liberation Sans, sans-serif" font-size="11.3" fill="#f07070">Applying magnetic field</text><line x1="130" y1="451.8" x2="130" y2="432.5" stroke="#f07070" stroke-width="0.8"/><path d="M130,429.3 L128.2,433.6 L131.8,433.6 Z" fill="#f07070"/><text x="75.4" y="498.9" font-family="Liberation Sans, sans-serif" font-size="11.3" fill="#f07070">Applying magnetic field</text><line x1="101.3" y1="502.8" x2="108" y2="509.3" stroke="#f07070" stroke-width="0.8"/><path d="M110.3,511.5 L105.5,509.6 L108.4,506.8 Z" fill="#f07070"/><text x="116.3" y="551.5" font-family="Liberation Sans, sans-serif" font-size="11.3" fill="#1f4d74">Composite PCM</text><line x1="137.2" y1="535.7" x2="140.7" y2="524.3" stroke="#1f4d74" stroke-width="0.8"/><path d="M141.6,521.4 L138.8,525.2 L142.6,526 Z" fill="#1f4d74"/><text x="354.2" y="369.7" font-family="Liberation Sans, sans-serif" font-weight="bold" font-size="16.5">d</text><rect x="421.8" y="358.3" width="253.5" height="203.7" fill="none" stroke="#1a1a1a" stroke-width="1.3"/><line x1="421.8" y1="548.4" x2="425.8" y2="548.4" stroke="#1a1a1a" stroke-width="1"/><text x="416.8" y="551.8" font-family="Liberation Sans, sans-serif" font-size="9.9" fill="#111" text-anchor="end">0.00</text><line x1="421.8" y1="530.8" x2="424.2" y2="530.8" stroke="#1a1a1a" stroke-width="1"/><line x1="421.8" y1="513.2" x2="425.8" y2="513.2" stroke="#1a1a1a" stroke-width="1"/><text x="416.8" y="516.6" font-family="Liberation Sans, sans-serif" font-size="9.9" fill="#111" text-anchor="end">0.05</text><line x1="421.8" y1="495.6" x2="424.2" y2="495.6" stroke="#1a1a1a" stroke-width="1"/><line x1="421.8" y1="478.0" x2="425.8" y2="478.0" stroke="#1a1a1a" stroke-width="1"/><text x="416.8" y="481.4" font-family="Liberation Sans, sans-serif" font-size="9.9" fill="#111" text-anchor="end">0.10</text><line x1="421.8" y1="460.4" x2="424.2" y2="460.4" stroke="#1a1a1a" stroke-width="1"/><line x1="421.8" y1="442.8" x2="425.8" y2="442.8" stroke="#1a1a1a" stroke-width="1"/><text x="416.8" y="446.2" font-family="Liberation Sans, sans-serif" font-size="9.9" fill="#111" text-anchor="end">0.15</text><line x1="421.8" y1="425.2" x2="424.2" y2="425.2" stroke="#1a1a1a" stroke-width="1"/><line x1="421.8" y1="407.6" x2="425.8" y2="407.6" stroke="#1a1a1a" stroke-width="1"/><text x="416.8" y="411.0" font-family="Liberation Sans, sans-serif" font-size="9.9" fill="#111" text-anchor="end">0.20</text><line x1="421.8" y1="390.0" x2="424.2" y2="390.0" stroke="#1a1a1a" stroke-width="1"/><line x1="421.8" y1="372.4" x2="425.8" y2="372.4" stroke="#1a1a1a" stroke-width="1"/><text x="416.8" y="375.8" font-family="Liberation Sans, sans-serif" font-size="9.9" fill="#111" text-anchor="end">0.25</text><line x1="432.9" y1="562" x2="432.9" y2="559.6" stroke="#1a1a1a" stroke-width="1"/><line x1="455.0" y1="562" x2="455.0" y2="558" stroke="#1a1a1a" stroke-width="1"/><line x1="477.1" y1="562" x2="477.1" y2="559.6" stroke="#1a1a1a" stroke-width="1"/><line x1="499.2" y1="562" x2="499.2" y2="558" stroke="#1a1a1a" stroke-width="1"/><line x1="521.3" y1="562" x2="521.3" y2="559.6" stroke="#1a1a1a" stroke-width="1"/><line x1="543.4" y1="562" x2="543.4" y2="558" stroke="#1a1a1a" stroke-width="1"/><line x1="565.5" y1="562" x2="565.5" y2="559.6" stroke="#1a1a1a" stroke-width="1"/><line x1="587.6" y1="562" x2="587.6" y2="558" stroke="#1a1a1a" stroke-width="1"/><line x1="609.7" y1="562" x2="609.7" y2="559.6" stroke="#1a1a1a" stroke-width="1"/><line x1="631.8" y1="562" x2="631.8" y2="558" stroke="#1a1a1a" stroke-width="1"/><line x1="653.9" y1="562" x2="653.9" y2="559.6" stroke="#1a1a1a" stroke-width="1"/><text x="455.0" y="575.2" font-family="Liberation Sans, sans-serif" font-size="9.7" fill="#111" text-anchor="middle">0</text><text x="499.2" y="575.2" font-family="Liberation Sans, sans-serif" font-size="9.7" fill="#111" text-anchor="middle">10</text><text x="543.4" y="575.2" font-family="Liberation Sans, sans-serif" font-size="9.7" fill="#111" text-anchor="middle">20</text><text x="587.6" y="575.2" font-family="Liberation Sans, sans-serif" font-size="9.7" fill="#111" text-anchor="middle">30</text><text x="631.8" y="575.2" font-family="Liberation Sans, sans-serif" font-size="9.7" fill="#111" text-anchor="middle">40</text><text x="676.0" y="575.2" font-family="Liberation Sans, sans-serif" font-size="9.7" fill="#111" text-anchor="middle">50</text><text x="549" y="588.4" font-family="Liberation Sans, sans-serif" font-size="11.5" fill="#111" text-anchor="middle">Time (min)</text><text transform="translate(391.6,451.5) rotate(-90)" font-family="Liberation Sans, sans-serif" font-size="11.45" fill="#111" text-anchor="middle">Local thermal resistance (m<tspan font-size="7" dy="-4">2</tspan><tspan dy="4">·K/W)</tspan></text><line x1="455" y1="519.9" x2="455" y2="562" stroke="#1a1a1a" stroke-width="1.1"/><line x1="521.2" y1="519.9" x2="521.2" y2="562" stroke="#1a1a1a" stroke-width="1.1"/><line x1="459" y1="552.8" x2="517" y2="552.8" stroke="#1a1a1a" stroke-width="0.9"/><path d="M455.6,552.8 L461,550.9 L461,554.7 Z M520.6,552.8 L515.2,550.9 L515.2,554.7 Z" fill="#1a1a1a"/><line x1="525" y1="552.8" x2="671" y2="552.8" stroke="#1a1a1a" stroke-width="0.9"/><path d="M521.8,552.8 L527.2,550.9 L527.2,554.7 Z M674.6,552.8 L669.2,550.9 L669.2,554.7 Z" fill="#1a1a1a"/><text x="468.5" y="535.5" font-family="Liberation Sans, sans-serif" font-weight="bold" font-size="10.5" fill="#f07070" text-anchor="middle">q</text><text x="576.8" y="536.2" font-family="Liberation Sans, sans-serif" font-weight="bold" font-size="10.5" fill="#f07070" text-anchor="middle">q</text><text x="504.5" y="537.2" font-family="Liberation Sans, sans-serif" font-weight="bold" font-size="10.5" fill="#7ad0a0" text-anchor="middle">B</text><text x="612.4" y="548.2" font-family="Liberation Sans, sans-serif" font-weight="bold" font-size="10.5" fill="#7ad0a0" text-anchor="middle">B</text><path d="M479.8,525 L483.8,530.6 L481.7,530.6 L480.1,547.2 L479.5,547.2 L477.90000000000003,530.6 L475.8,530.6 Z" fill="#fff" stroke="#f07070" stroke-width="0.8" stroke-linejoin="miter"/><path d="M493,525 L497,530.6 L494.9,530.6 L493.3,547.2 L492.7,547.2 L491.1,530.6 L489,530.6 Z" fill="#fff" stroke="#7ad0a0" stroke-width="0.8" stroke-linejoin="miter"/><path d="M588.6,525.3 L592.6,530.9 L590.5,530.9 L588.9,547 L588.3000000000001,547 L586.7,530.9 L584.6,530.9 Z" fill="#fff" stroke="#f07070" stroke-width="0.8" stroke-linejoin="miter"/><path d="M624.2,533.2 L618.4,529.2 L618.4,531.3 L601.8,532.9 L601.8,533.5 L618.4,535.1 L618.4,537.2 Z" fill="#fff" stroke="#7ad0a0" stroke-width="0.8"/><circle cx="469.7" cy="471.5" r="2.9" fill="#fff" stroke="#f06a6a" stroke-width="0.7"/><path d="M466.80,471.70 A2.9,2.9 0 0 0 472.60,471.70 Z" fill="#f06a6a"/><circle cx="473.1" cy="458" r="2.9" fill="#fff" stroke="#f06a6a" stroke-width="0.7"/><path d="M470.20,458.20 A2.9,2.9 0 0 0 476.00,458.20 Z" fill="#f06a6a"/><circle cx="482.9" cy="462.8" r="2.9" fill="#fff" stroke="#f06a6a" stroke-width="0.7"/><path d="M480.00,463.00 A2.9,2.9 0 0 0 485.80,463.00 Z" fill="#f06a6a"/><circle cx="491" cy="467.3" r="2.9" fill="#fff" stroke="#f06a6a" stroke-width="0.7"/><path d="M488.10,467.50 A2.9,2.9 0 0 0 493.90,467.50 Z" fill="#f06a6a"/><circle cx="505.2" cy="460.1" r="2.9" fill="#fff" stroke="#f06a6a" stroke-width="0.7"/><path d="M502.30,460.30 A2.9,2.9 0 0 0 508.10,460.30 Z" fill="#f06a6a"/><circle cx="519.4" cy="451.2" r="2.9" fill="#fff" stroke="#f06a6a" stroke-width="0.7"/><path d="M519.60,448.30 A2.9,2.9 0 0 0 519.60,454.10 Z" fill="#f06a6a"/><circle cx="532.9" cy="445.1" r="2.9" fill="#fff" stroke="#f06a6a" stroke-width="0.7"/><path d="M533.10,442.20 A2.9,2.9 0 0 0 533.10,448.00 Z" fill="#f06a6a"/><circle cx="540.7" cy="430" r="2.9" fill="#fff" stroke="#f06a6a" stroke-width="0.7"/><path d="M540.90,427.10 A2.9,2.9 0 0 0 540.90,432.90 Z" fill="#f06a6a"/><circle cx="548" cy="416.2" r="2.9" fill="#fff" stroke="#f06a6a" stroke-width="0.7"/><path d="M548.20,413.30 A2.9,2.9 0 0 0 548.20,419.10 Z" fill="#f06a6a"/><circle cx="557.5" cy="405.7" r="2.9" fill="#fff" stroke="#f06a6a" stroke-width="0.7"/><path d="M557.70,402.80 A2.9,2.9 0 0 0 557.70,408.60 Z" fill="#f06a6a"/><circle cx="571" cy="407" r="2.9" fill="#fff" stroke="#f06a6a" stroke-width="0.7"/><path d="M571.20,404.10 A2.9,2.9 0 0 0 571.20,409.90 Z" fill="#f06a6a"/><circle cx="587" cy="415" r="2.9" fill="#fff" stroke="#f06a6a" stroke-width="0.7"/><path d="M587.20,412.10 A2.9,2.9 0 0 0 587.20,417.90 Z" fill="#f06a6a"/><circle cx="603.1" cy="423.9" r="2.9" fill="#fff" stroke="#f06a6a" stroke-width="0.7"/><path d="M603.30,421.00 A2.9,2.9 0 0 0 603.30,426.80 Z" fill="#f06a6a"/><rect x="468.15" y="467.05" width="4.1" height="4.1" fill="#fff" stroke="#1b4b73" stroke-width="1.9"/><rect x="471.05" y="458.95" width="4.1" height="4.1" fill="#fff" stroke="#1b4b73" stroke-width="1.9"/><rect x="474.25" y="438.45" width="4.1" height="4.1" fill="#fff" stroke="#1b4b73" stroke-width="1.9"/><rect x="479.85" y="416.95" width="4.1" height="4.1" fill="#fff" stroke="#1b4b73" stroke-width="1.9"/><rect x="490.45" y="394.85" width="4.1" height="4.1" fill="#fff" stroke="#1b4b73" stroke-width="1.9"/><rect x="509.95" y="384.65" width="4.1" height="4.1" fill="#fff" stroke="#1b4b73" stroke-width="1.9"/><rect x="530.65" y="378.05" width="4.1" height="4.1" fill="#fff" stroke="#1b4b73" stroke-width="1.9"/><rect x="551.85" y="374.25" width="4.1" height="4.1" fill="#fff" stroke="#1b4b73" stroke-width="1.9"/><rect x="565.25" y="384.75" width="4.1" height="4.1" fill="#fff" stroke="#1b4b73" stroke-width="1.9"/><rect x="581.35" y="397.05" width="4.1" height="4.1" fill="#fff" stroke="#1b4b73" stroke-width="1.9"/><rect x="597.05" y="410.25" width="4.1" height="4.1" fill="#fff" stroke="#1b4b73" stroke-width="1.9"/><rect x="571.35" y="456.45" width="4.1" height="4.1" fill="#fff" stroke="#1b4b73" stroke-width="1.9"/><text x="589.2" y="462" font-family="Liberation Sans, sans-serif" font-size="10.3" fill="#111">Composite PCM</text><text x="562.6" y="478.5" font-family="Liberation Sans, sans-serif" font-size="10.3" fill="#111">Applying magnetic field</text><circle cx="573.4" cy="488.5" r="2.9" fill="#fff" stroke="#f06a6a" stroke-width="0.7"/><path d="M570.50,488.70 A2.9,2.9 0 0 0 576.30,488.70 Z" fill="#f06a6a"/><text x="589.2" y="491.8" font-family="Liberation Sans, sans-serif" font-size="10.3" fill="#111">Tilt agnle 0°</text><circle cx="573.4" cy="500.9" r="2.9" fill="#fff" stroke="#f06a6a" stroke-width="0.7"/><path d="M573.60,498.00 A2.9,2.9 0 0 0 573.60,503.80 Z" fill="#f06a6a"/><text x="589.2" y="504.2" font-family="Liberation Sans, sans-serif" font-size="10.3" fill="#111">Tilt agnle 90°</text></svg></body></html>
